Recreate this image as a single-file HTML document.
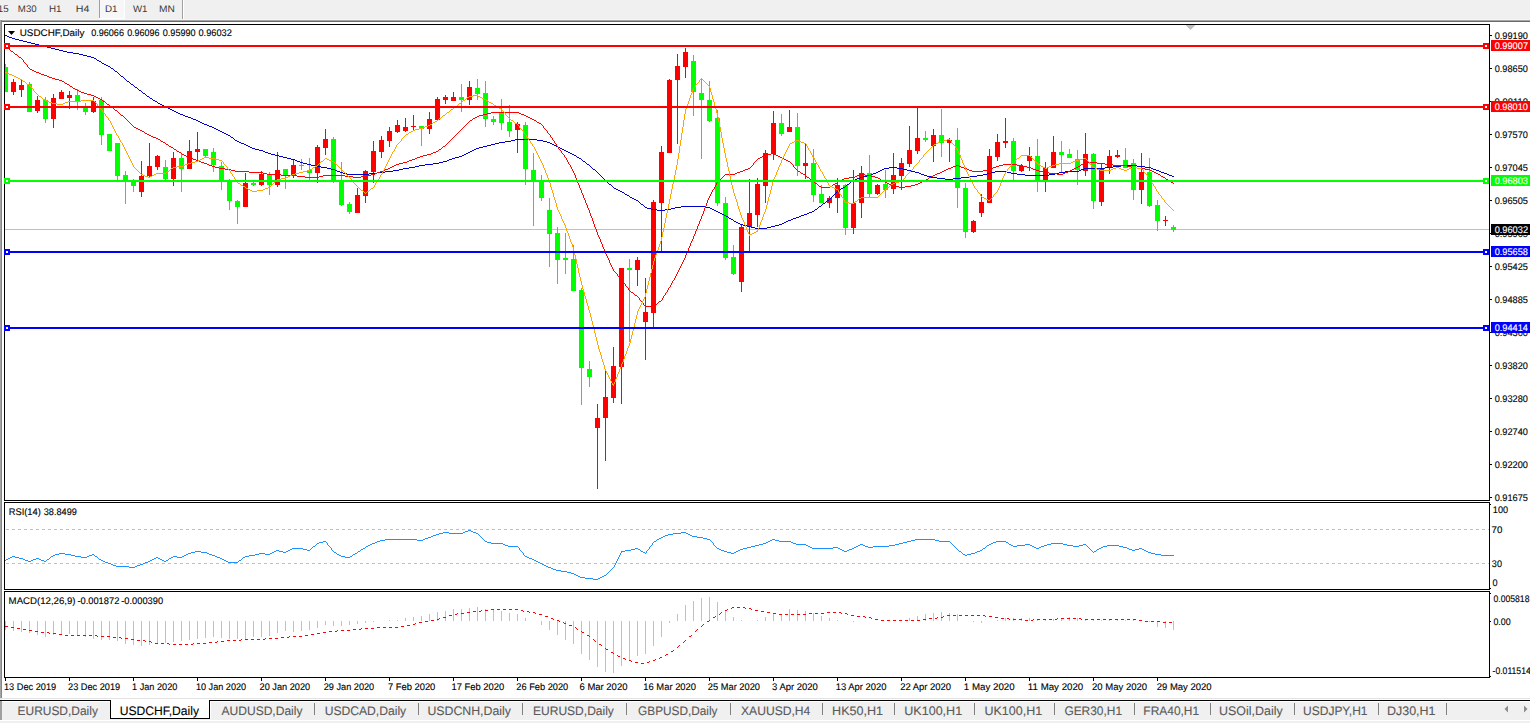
<!DOCTYPE html>
<html><head><meta charset="utf-8"><style>
html,body{margin:0;padding:0;background:#f0f0f0;width:1530px;height:723px;overflow:hidden}
text{font-family:"Liberation Sans", sans-serif}
</style></head><body><svg width="1530" height="723" viewBox="0 0 1530 723" style="display:block"><rect x="0" y="0" width="1530" height="723" fill="#f0f0f0"/>
<text x="-2.23" y="12" font-size="9.6" fill="#3a3a3a" stroke="#3a3a3a" stroke-width="0" textLength="10.84" lengthAdjust="spacingAndGlyphs" text-rendering="geometricPrecision">15</text>
<text x="17.83" y="12" font-size="9.6" fill="#3a3a3a" stroke="#3a3a3a" stroke-width="0" textLength="18.82" lengthAdjust="spacingAndGlyphs" text-rendering="geometricPrecision">M30</text>
<text x="49.01" y="12" font-size="9.6" fill="#3a3a3a" stroke="#3a3a3a" stroke-width="0" textLength="12.56" lengthAdjust="spacingAndGlyphs" text-rendering="geometricPrecision">H1</text>
<text x="75.75" y="12" font-size="9.6" fill="#3a3a3a" stroke="#3a3a3a" stroke-width="0" textLength="13.61" lengthAdjust="spacingAndGlyphs" text-rendering="geometricPrecision">H4</text>
<rect x="99" y="0" width="1" height="18" fill="#a0a0a0"/>
<rect x="100" y="0" width="24" height="18" fill="#f7f7f7"/>
<rect x="99" y="18" width="26" height="1" fill="#ffffff"/>
<rect x="124" y="0" width="1" height="18" fill="#ffffff"/>
<text x="104.91" y="12" font-size="9.6" fill="#3a3a3a" stroke="#3a3a3a" stroke-width="0" textLength="12.56" lengthAdjust="spacingAndGlyphs" text-rendering="geometricPrecision">D1</text>
<text x="132.95" y="12" font-size="9.6" fill="#3a3a3a" stroke="#3a3a3a" stroke-width="0" textLength="14.48" lengthAdjust="spacingAndGlyphs" text-rendering="geometricPrecision">W1</text>
<text x="158.99" y="12" font-size="9.6" fill="#3a3a3a" stroke="#3a3a3a" stroke-width="0" textLength="15.83" lengthAdjust="spacingAndGlyphs" text-rendering="geometricPrecision">MN</text>
<rect x="182" y="0" width="1" height="20" fill="#a0a0a0"/>
<rect x="183" y="0" width="1" height="20" fill="#ffffff"/>
<rect x="0" y="19" width="1530" height="1" fill="#f5f5f5"/>
<rect x="0" y="20" width="1530" height="1" fill="#a8a8a8"/>
<rect x="0" y="21" width="1530" height="1" fill="#6a6a6a"/>
<rect x="2" y="22" width="1528" height="677" fill="#ffffff"/>
<rect x="0" y="20" width="1" height="679" fill="#a4a4a4"/>
<rect x="1" y="20" width="1" height="679" fill="#868686"/>
<defs><clipPath id="cm"><rect x="5" y="25" width="1484" height="475"/></clipPath><clipPath id="cr"><rect x="5" y="503" width="1484" height="86"/></clipPath><clipPath id="cd"><rect x="5" y="592" width="1484" height="85"/></clipPath></defs>
<g clip-path="url(#cm)" shape-rendering="crispEdges">
<rect x="5" y="229" width="1484" height="1" fill="#c0c0c0"/>
<rect x="5" y="64" width="1" height="28" fill="#00ff00"/>
<rect x="3" y="67" width="5" height="25" fill="#00ff00"/>
<rect x="13" y="79" width="1" height="16" fill="#ff0000"/>
<rect x="11" y="82" width="5" height="10" fill="#ff0000"/>
<rect x="21" y="80" width="1" height="17" fill="#ff0000"/>
<rect x="19" y="85" width="5" height="5" fill="#ff0000"/>
<rect x="29" y="82" width="1" height="30" fill="#00ff00"/>
<rect x="27" y="84" width="5" height="28" fill="#00ff00"/>
<rect x="37" y="96" width="1" height="17" fill="#ff0000"/>
<rect x="35" y="100" width="5" height="11" fill="#ff0000"/>
<rect x="45" y="97" width="1" height="26" fill="#00ff00"/>
<rect x="43" y="100" width="5" height="19" fill="#00ff00"/>
<rect x="53" y="94" width="1" height="34" fill="#ff0000"/>
<rect x="51" y="98" width="5" height="21" fill="#ff0000"/>
<rect x="61" y="90" width="1" height="9" fill="#ff0000"/>
<rect x="59" y="92" width="5" height="7" fill="#ff0000"/>
<rect x="69" y="91" width="1" height="18" fill="#ff0000"/>
<rect x="67" y="95" width="5" height="3" fill="#ff0000"/>
<rect x="77" y="89" width="1" height="21" fill="#00ff00"/>
<rect x="75" y="95" width="5" height="7" fill="#00ff00"/>
<rect x="85" y="103" width="1" height="12" fill="#00ff00"/>
<rect x="83" y="107" width="5" height="5" fill="#00ff00"/>
<rect x="93" y="97" width="1" height="16" fill="#ff0000"/>
<rect x="91" y="101" width="5" height="11" fill="#ff0000"/>
<rect x="101" y="97" width="1" height="48" fill="#00ff00"/>
<rect x="99" y="100" width="5" height="35" fill="#00ff00"/>
<rect x="109" y="134" width="1" height="17" fill="#00ff00"/>
<rect x="107" y="134" width="5" height="17" fill="#00ff00"/>
<rect x="117" y="143" width="1" height="37" fill="#00ff00"/>
<rect x="115" y="143" width="5" height="33" fill="#00ff00"/>
<rect x="125" y="171" width="1" height="33" fill="#00ff00"/>
<rect x="123" y="175" width="5" height="6" fill="#00ff00"/>
<rect x="133" y="179" width="1" height="13" fill="#00ff00"/>
<rect x="131" y="181" width="5" height="5" fill="#00ff00"/>
<rect x="141" y="161" width="1" height="36" fill="#ff0000"/>
<rect x="139" y="176" width="5" height="16" fill="#ff0000"/>
<rect x="149" y="143" width="1" height="35" fill="#ff0000"/>
<rect x="147" y="166" width="5" height="10" fill="#ff0000"/>
<rect x="157" y="155" width="1" height="15" fill="#ff0000"/>
<rect x="155" y="156" width="5" height="11" fill="#ff0000"/>
<rect x="165" y="160" width="1" height="20" fill="#00ff00"/>
<rect x="163" y="167" width="5" height="12" fill="#00ff00"/>
<rect x="173" y="152" width="1" height="34" fill="#ff0000"/>
<rect x="171" y="158" width="5" height="21" fill="#ff0000"/>
<rect x="181" y="153" width="1" height="39" fill="#00ff00"/>
<rect x="179" y="158" width="5" height="11" fill="#00ff00"/>
<rect x="189" y="140" width="1" height="29" fill="#ff0000"/>
<rect x="187" y="151" width="5" height="18" fill="#ff0000"/>
<rect x="197" y="132" width="1" height="28" fill="#ff0000"/>
<rect x="195" y="149" width="5" height="3" fill="#ff0000"/>
<rect x="205" y="149" width="1" height="9" fill="#00ff00"/>
<rect x="203" y="149" width="5" height="7" fill="#00ff00"/>
<rect x="213" y="148" width="1" height="24" fill="#00ff00"/>
<rect x="211" y="152" width="5" height="13" fill="#00ff00"/>
<rect x="221" y="162" width="1" height="28" fill="#00ff00"/>
<rect x="219" y="166" width="5" height="14" fill="#00ff00"/>
<rect x="229" y="179" width="1" height="31" fill="#00ff00"/>
<rect x="227" y="180" width="5" height="21" fill="#00ff00"/>
<rect x="237" y="200" width="1" height="24" fill="#00ff00"/>
<rect x="235" y="201" width="5" height="6" fill="#00ff00"/>
<rect x="245" y="173" width="1" height="34" fill="#ff0000"/>
<rect x="243" y="183" width="5" height="24" fill="#ff0000"/>
<rect x="253" y="182" width="1" height="4" fill="#00ff00"/>
<rect x="251" y="183" width="5" height="2" fill="#00ff00"/>
<rect x="261" y="171" width="1" height="15" fill="#ff0000"/>
<rect x="259" y="174" width="5" height="11" fill="#ff0000"/>
<rect x="269" y="172" width="1" height="23" fill="#00ff00"/>
<rect x="267" y="175" width="5" height="10" fill="#00ff00"/>
<rect x="277" y="152" width="1" height="35" fill="#ff0000"/>
<rect x="275" y="170" width="5" height="15" fill="#ff0000"/>
<rect x="285" y="169" width="1" height="20" fill="#00ff00"/>
<rect x="283" y="169" width="5" height="6" fill="#00ff00"/>
<rect x="293" y="160" width="1" height="18" fill="#ff0000"/>
<rect x="291" y="165" width="5" height="10" fill="#ff0000"/>
<rect x="301" y="159" width="1" height="11" fill="#00ff00"/>
<rect x="299" y="165" width="5" height="1" fill="#00ff00"/>
<rect x="309" y="158" width="1" height="22" fill="#00ff00"/>
<rect x="307" y="170" width="5" height="3" fill="#00ff00"/>
<rect x="317" y="145" width="1" height="38" fill="#ff0000"/>
<rect x="315" y="147" width="5" height="26" fill="#ff0000"/>
<rect x="325" y="129" width="1" height="26" fill="#ff0000"/>
<rect x="323" y="139" width="5" height="9" fill="#ff0000"/>
<rect x="333" y="137" width="1" height="46" fill="#00ff00"/>
<rect x="331" y="139" width="5" height="41" fill="#00ff00"/>
<rect x="341" y="162" width="1" height="44" fill="#00ff00"/>
<rect x="339" y="180" width="5" height="25" fill="#00ff00"/>
<rect x="349" y="202" width="1" height="12" fill="#00ff00"/>
<rect x="347" y="204" width="5" height="8" fill="#00ff00"/>
<rect x="357" y="188" width="1" height="25" fill="#ff0000"/>
<rect x="355" y="195" width="5" height="18" fill="#ff0000"/>
<rect x="365" y="170" width="1" height="33" fill="#ff0000"/>
<rect x="363" y="171" width="5" height="25" fill="#ff0000"/>
<rect x="373" y="141" width="1" height="42" fill="#ff0000"/>
<rect x="371" y="151" width="5" height="21" fill="#ff0000"/>
<rect x="381" y="136" width="1" height="22" fill="#ff0000"/>
<rect x="379" y="140" width="5" height="12" fill="#ff0000"/>
<rect x="389" y="127" width="1" height="20" fill="#ff0000"/>
<rect x="387" y="131" width="5" height="10" fill="#ff0000"/>
<rect x="397" y="120" width="1" height="13" fill="#ff0000"/>
<rect x="395" y="125" width="5" height="7" fill="#ff0000"/>
<rect x="405" y="118" width="1" height="14" fill="#ff0000"/>
<rect x="403" y="127" width="5" height="4" fill="#ff0000"/>
<rect x="413" y="115" width="1" height="15" fill="#ff0000"/>
<rect x="411" y="126" width="5" height="1" fill="#ff0000"/>
<rect x="421" y="126" width="1" height="20" fill="#00ff00"/>
<rect x="419" y="126" width="5" height="3" fill="#00ff00"/>
<rect x="429" y="112" width="1" height="22" fill="#ff0000"/>
<rect x="427" y="119" width="5" height="10" fill="#ff0000"/>
<rect x="437" y="97" width="1" height="23" fill="#ff0000"/>
<rect x="435" y="99" width="5" height="21" fill="#ff0000"/>
<rect x="445" y="95" width="1" height="9" fill="#ff0000"/>
<rect x="443" y="97" width="5" height="3" fill="#ff0000"/>
<rect x="453" y="92" width="1" height="9" fill="#ff0000"/>
<rect x="451" y="97" width="5" height="4" fill="#ff0000"/>
<rect x="461" y="84" width="1" height="28" fill="#00ff00"/>
<rect x="459" y="97" width="5" height="3" fill="#00ff00"/>
<rect x="469" y="81" width="1" height="24" fill="#ff0000"/>
<rect x="467" y="87" width="5" height="13" fill="#ff0000"/>
<rect x="477" y="79" width="1" height="21" fill="#00ff00"/>
<rect x="475" y="88" width="5" height="6" fill="#00ff00"/>
<rect x="485" y="81" width="1" height="46" fill="#00ff00"/>
<rect x="483" y="93" width="5" height="26" fill="#00ff00"/>
<rect x="493" y="116" width="1" height="9" fill="#00ff00"/>
<rect x="491" y="119" width="5" height="3" fill="#00ff00"/>
<rect x="501" y="99" width="1" height="31" fill="#00ff00"/>
<rect x="499" y="113" width="5" height="10" fill="#00ff00"/>
<rect x="509" y="105" width="1" height="32" fill="#00ff00"/>
<rect x="507" y="122" width="5" height="9" fill="#00ff00"/>
<rect x="517" y="122" width="1" height="31" fill="#ff0000"/>
<rect x="515" y="124" width="5" height="6" fill="#ff0000"/>
<rect x="525" y="122" width="1" height="63" fill="#00ff00"/>
<rect x="523" y="125" width="5" height="44" fill="#00ff00"/>
<rect x="533" y="153" width="1" height="73" fill="#00ff00"/>
<rect x="531" y="170" width="5" height="11" fill="#00ff00"/>
<rect x="541" y="175" width="1" height="26" fill="#00ff00"/>
<rect x="539" y="181" width="5" height="17" fill="#00ff00"/>
<rect x="549" y="198" width="1" height="69" fill="#00ff00"/>
<rect x="547" y="210" width="5" height="24" fill="#00ff00"/>
<rect x="557" y="227" width="1" height="57" fill="#00ff00"/>
<rect x="555" y="233" width="5" height="27" fill="#00ff00"/>
<rect x="565" y="233" width="1" height="41" fill="#00ff00"/>
<rect x="563" y="258" width="5" height="2" fill="#00ff00"/>
<rect x="573" y="245" width="1" height="46" fill="#00ff00"/>
<rect x="571" y="259" width="5" height="32" fill="#00ff00"/>
<rect x="581" y="288" width="1" height="117" fill="#00ff00"/>
<rect x="579" y="290" width="5" height="78" fill="#00ff00"/>
<rect x="589" y="361" width="1" height="26" fill="#00ff00"/>
<rect x="587" y="369" width="5" height="8" fill="#00ff00"/>
<rect x="597" y="404" width="1" height="85" fill="#ff0000"/>
<rect x="595" y="418" width="5" height="10" fill="#ff0000"/>
<rect x="605" y="371" width="1" height="90" fill="#ff0000"/>
<rect x="603" y="397" width="5" height="21" fill="#ff0000"/>
<rect x="613" y="347" width="1" height="56" fill="#ff0000"/>
<rect x="611" y="366" width="5" height="32" fill="#ff0000"/>
<rect x="621" y="268" width="1" height="136" fill="#ff0000"/>
<rect x="619" y="268" width="5" height="99" fill="#ff0000"/>
<rect x="629" y="259" width="1" height="83" fill="#00ff00"/>
<rect x="627" y="268" width="5" height="2" fill="#00ff00"/>
<rect x="637" y="257" width="1" height="29" fill="#ff0000"/>
<rect x="635" y="260" width="5" height="10" fill="#ff0000"/>
<rect x="645" y="278" width="1" height="82" fill="#ff0000"/>
<rect x="643" y="312" width="5" height="10" fill="#ff0000"/>
<rect x="653" y="200" width="1" height="127" fill="#ff0000"/>
<rect x="651" y="202" width="5" height="111" fill="#ff0000"/>
<rect x="661" y="146" width="1" height="105" fill="#ff0000"/>
<rect x="659" y="152" width="5" height="51" fill="#ff0000"/>
<rect x="669" y="79" width="1" height="74" fill="#ff0000"/>
<rect x="667" y="80" width="5" height="73" fill="#ff0000"/>
<rect x="677" y="54" width="1" height="90" fill="#ff0000"/>
<rect x="675" y="66" width="5" height="14" fill="#ff0000"/>
<rect x="685" y="48" width="1" height="30" fill="#ff0000"/>
<rect x="683" y="52" width="5" height="15" fill="#ff0000"/>
<rect x="693" y="55" width="1" height="61" fill="#00ff00"/>
<rect x="691" y="61" width="5" height="31" fill="#00ff00"/>
<rect x="701" y="78" width="1" height="81" fill="#00ff00"/>
<rect x="699" y="93" width="5" height="7" fill="#00ff00"/>
<rect x="709" y="81" width="1" height="41" fill="#00ff00"/>
<rect x="707" y="100" width="5" height="21" fill="#00ff00"/>
<rect x="717" y="110" width="1" height="96" fill="#00ff00"/>
<rect x="715" y="118" width="5" height="85" fill="#00ff00"/>
<rect x="725" y="197" width="1" height="63" fill="#00ff00"/>
<rect x="723" y="203" width="5" height="55" fill="#00ff00"/>
<rect x="733" y="245" width="1" height="30" fill="#00ff00"/>
<rect x="731" y="257" width="5" height="17" fill="#00ff00"/>
<rect x="741" y="224" width="1" height="68" fill="#ff0000"/>
<rect x="739" y="227" width="5" height="55" fill="#ff0000"/>
<rect x="749" y="179" width="1" height="72" fill="#ff0000"/>
<rect x="747" y="213" width="5" height="14" fill="#ff0000"/>
<rect x="757" y="178" width="1" height="49" fill="#ff0000"/>
<rect x="755" y="184" width="5" height="31" fill="#ff0000"/>
<rect x="765" y="150" width="1" height="53" fill="#ff0000"/>
<rect x="763" y="153" width="5" height="33" fill="#ff0000"/>
<rect x="773" y="111" width="1" height="49" fill="#ff0000"/>
<rect x="771" y="123" width="5" height="31" fill="#ff0000"/>
<rect x="781" y="114" width="1" height="22" fill="#00ff00"/>
<rect x="779" y="123" width="5" height="11" fill="#00ff00"/>
<rect x="789" y="110" width="1" height="22" fill="#ff0000"/>
<rect x="787" y="127" width="5" height="5" fill="#ff0000"/>
<rect x="797" y="113" width="1" height="63" fill="#00ff00"/>
<rect x="795" y="127" width="5" height="39" fill="#00ff00"/>
<rect x="805" y="143" width="1" height="36" fill="#ff0000"/>
<rect x="803" y="163" width="5" height="3" fill="#ff0000"/>
<rect x="813" y="149" width="1" height="53" fill="#00ff00"/>
<rect x="811" y="163" width="5" height="32" fill="#00ff00"/>
<rect x="821" y="185" width="1" height="18" fill="#00ff00"/>
<rect x="819" y="194" width="5" height="9" fill="#00ff00"/>
<rect x="829" y="196" width="1" height="12" fill="#ff0000"/>
<rect x="827" y="198" width="5" height="5" fill="#ff0000"/>
<rect x="837" y="178" width="1" height="35" fill="#ff0000"/>
<rect x="835" y="185" width="5" height="13" fill="#ff0000"/>
<rect x="845" y="184" width="1" height="51" fill="#00ff00"/>
<rect x="843" y="185" width="5" height="43" fill="#00ff00"/>
<rect x="853" y="170" width="1" height="64" fill="#ff0000"/>
<rect x="851" y="203" width="5" height="25" fill="#ff0000"/>
<rect x="861" y="166" width="1" height="52" fill="#ff0000"/>
<rect x="859" y="173" width="5" height="30" fill="#ff0000"/>
<rect x="869" y="155" width="1" height="43" fill="#00ff00"/>
<rect x="867" y="173" width="5" height="21" fill="#00ff00"/>
<rect x="877" y="184" width="1" height="11" fill="#ff0000"/>
<rect x="875" y="185" width="5" height="9" fill="#ff0000"/>
<rect x="885" y="170" width="1" height="28" fill="#00ff00"/>
<rect x="883" y="184" width="5" height="6" fill="#00ff00"/>
<rect x="893" y="153" width="1" height="41" fill="#ff0000"/>
<rect x="891" y="175" width="5" height="14" fill="#ff0000"/>
<rect x="901" y="158" width="1" height="32" fill="#ff0000"/>
<rect x="899" y="163" width="5" height="13" fill="#ff0000"/>
<rect x="909" y="126" width="1" height="41" fill="#ff0000"/>
<rect x="907" y="150" width="5" height="14" fill="#ff0000"/>
<rect x="917" y="107" width="1" height="47" fill="#ff0000"/>
<rect x="915" y="138" width="5" height="13" fill="#ff0000"/>
<rect x="925" y="131" width="1" height="11" fill="#00ff00"/>
<rect x="923" y="138" width="5" height="2" fill="#00ff00"/>
<rect x="933" y="129" width="1" height="33" fill="#ff0000"/>
<rect x="931" y="135" width="5" height="11" fill="#ff0000"/>
<rect x="941" y="109" width="1" height="48" fill="#00ff00"/>
<rect x="939" y="135" width="5" height="8" fill="#00ff00"/>
<rect x="949" y="138" width="1" height="24" fill="#ff0000"/>
<rect x="947" y="140" width="5" height="3" fill="#ff0000"/>
<rect x="957" y="128" width="1" height="80" fill="#00ff00"/>
<rect x="955" y="140" width="5" height="48" fill="#00ff00"/>
<rect x="965" y="183" width="1" height="55" fill="#00ff00"/>
<rect x="963" y="188" width="5" height="44" fill="#00ff00"/>
<rect x="973" y="220" width="1" height="13" fill="#ff0000"/>
<rect x="971" y="221" width="5" height="11" fill="#ff0000"/>
<rect x="981" y="194" width="1" height="23" fill="#ff0000"/>
<rect x="979" y="202" width="5" height="11" fill="#ff0000"/>
<rect x="989" y="149" width="1" height="54" fill="#ff0000"/>
<rect x="987" y="156" width="5" height="47" fill="#ff0000"/>
<rect x="997" y="134" width="1" height="27" fill="#ff0000"/>
<rect x="995" y="142" width="5" height="15" fill="#ff0000"/>
<rect x="1005" y="118" width="1" height="30" fill="#ff0000"/>
<rect x="1003" y="141" width="5" height="2" fill="#ff0000"/>
<rect x="1013" y="138" width="1" height="44" fill="#00ff00"/>
<rect x="1011" y="141" width="5" height="30" fill="#00ff00"/>
<rect x="1021" y="164" width="1" height="8" fill="#ff0000"/>
<rect x="1019" y="166" width="5" height="5" fill="#ff0000"/>
<rect x="1029" y="147" width="1" height="24" fill="#ff0000"/>
<rect x="1027" y="156" width="5" height="5" fill="#ff0000"/>
<rect x="1037" y="139" width="1" height="53" fill="#00ff00"/>
<rect x="1035" y="156" width="5" height="26" fill="#00ff00"/>
<rect x="1045" y="162" width="1" height="30" fill="#ff0000"/>
<rect x="1043" y="168" width="5" height="12" fill="#ff0000"/>
<rect x="1053" y="136" width="1" height="32" fill="#ff0000"/>
<rect x="1051" y="152" width="5" height="16" fill="#ff0000"/>
<rect x="1061" y="141" width="1" height="31" fill="#00ff00"/>
<rect x="1059" y="152" width="5" height="3" fill="#00ff00"/>
<rect x="1069" y="149" width="1" height="9" fill="#00ff00"/>
<rect x="1067" y="154" width="5" height="4" fill="#00ff00"/>
<rect x="1077" y="150" width="1" height="35" fill="#00ff00"/>
<rect x="1075" y="159" width="5" height="11" fill="#00ff00"/>
<rect x="1085" y="133" width="1" height="43" fill="#ff0000"/>
<rect x="1083" y="154" width="5" height="17" fill="#ff0000"/>
<rect x="1093" y="153" width="1" height="56" fill="#00ff00"/>
<rect x="1091" y="154" width="5" height="47" fill="#00ff00"/>
<rect x="1101" y="163" width="1" height="43" fill="#ff0000"/>
<rect x="1099" y="168" width="5" height="34" fill="#ff0000"/>
<rect x="1109" y="150" width="1" height="24" fill="#ff0000"/>
<rect x="1107" y="156" width="5" height="12" fill="#ff0000"/>
<rect x="1117" y="150" width="1" height="8" fill="#ff0000"/>
<rect x="1115" y="155" width="5" height="2" fill="#ff0000"/>
<rect x="1125" y="148" width="1" height="20" fill="#00ff00"/>
<rect x="1123" y="160" width="5" height="8" fill="#00ff00"/>
<rect x="1133" y="159" width="1" height="41" fill="#00ff00"/>
<rect x="1131" y="163" width="5" height="27" fill="#00ff00"/>
<rect x="1141" y="153" width="1" height="51" fill="#ff0000"/>
<rect x="1139" y="172" width="5" height="18" fill="#ff0000"/>
<rect x="1149" y="158" width="1" height="49" fill="#00ff00"/>
<rect x="1147" y="172" width="5" height="34" fill="#00ff00"/>
<rect x="1157" y="200" width="1" height="31" fill="#00ff00"/>
<rect x="1155" y="205" width="5" height="16" fill="#00ff00"/>
<rect x="1165" y="216" width="1" height="10" fill="#ff0000"/>
<rect x="1163" y="220" width="5" height="1" fill="#ff0000"/>
<rect x="1173" y="225" width="1" height="7" fill="#00ff00"/>
<rect x="1171" y="227" width="5" height="3" fill="#00ff00"/>
</g>
<g clip-path="url(#cm)" shape-rendering="crispEdges">
<path d="M5 35h2v1h-2zM7 36h2v1h-2zM9 37h3v1h-3zM12 38h3v1h-3zM15 39h4v1h-4zM19 40h4v1h-4zM23 41h4v1h-4zM27 42h4v1h-4zM31 43h4v1h-4zM35 44h4v1h-4zM39 45h4v1h-4zM43 46h4v1h-4zM47 47h4v1h-4zM51 48h4v1h-4zM55 49h4v1h-4zM59 50h4v1h-4zM63 51h4v1h-4zM67 52h6v1h-6zM73 53h6v1h-6zM79 54h4v1h-4zM83 55h4v1h-4zM87 56h4v1h-4zM91 57h3v1h-3zM94 58h2v1h-2zM96 59h1v1h-1zM97 60h2v1h-2zM99 61h2v1h-2zM101 62h1v1h-1zM102 63h2v1h-2zM104 64h2v1h-2zM106 65h2v1h-2zM108 66h2v1h-2zM110 67h1v1h-1zM111 68h2v1h-2zM113 69h1v1h-1zM114 70h1v1h-1zM115 71h2v1h-2zM117 72h1v1h-1zM118 73h1v1h-1zM119 74h1v1h-1zM120 75h1v1h-1zM121 76h2v1h-2zM123 77h1v1h-1zM124 78h1v1h-1zM125 79h1v1h-1zM126 80h1v1h-1zM127 81h2v1h-2zM129 82h1v1h-1zM130 83h1v1h-1zM131 84h2v1h-2zM133 85h1v1h-1zM134 86h1v1h-1zM135 87h2v1h-2zM137 88h1v1h-1zM138 89h1v1h-1zM139 90h2v1h-2zM141 91h1v1h-1zM142 92h1v1h-1zM143 93h2v1h-2zM145 94h1v1h-1zM146 95h1v1h-1zM147 96h2v1h-2zM149 97h1v1h-1zM150 98h2v1h-2zM152 99h1v1h-1zM153 100h2v1h-2zM155 101h2v1h-2zM157 102h1v1h-1zM158 103h2v1h-2zM160 104h2v1h-2zM162 105h2v1h-2zM164 106h2v1h-2zM166 107h2v1h-2zM168 108h2v1h-2zM170 109h2v1h-2zM172 110h2v1h-2zM174 111h2v1h-2zM176 112h2v1h-2zM178 113h2v1h-2zM180 114h3v1h-3zM183 115h2v1h-2zM185 116h3v1h-3zM188 117h3v1h-3zM191 118h2v1h-2zM193 119h3v1h-3zM196 120h2v1h-2zM198 121h2v1h-2zM200 122h2v1h-2zM202 123h2v1h-2zM204 124h3v1h-3zM207 125h2v1h-2zM209 126h3v1h-3zM212 127h2v1h-2zM214 128h2v1h-2zM216 129h2v1h-2zM218 130h2v1h-2zM220 131h2v1h-2zM222 132h2v1h-2zM224 133h2v1h-2zM226 134h2v1h-2zM228 135h2v1h-2zM230 136h1v1h-1zM231 137h2v1h-2zM233 138h1v1h-1zM234 139h1v1h-1zM515 139h22v1h-22zM235 140h2v1h-2zM511 140h4v1h-4zM537 140h6v1h-6zM237 141h2v1h-2zM505 141h6v1h-6zM543 141h4v1h-4zM239 142h2v1h-2zM499 142h6v1h-6zM547 142h3v1h-3zM241 143h3v1h-3zM495 143h4v1h-4zM550 143h2v1h-2zM244 144h2v1h-2zM491 144h4v1h-4zM552 144h2v1h-2zM246 145h2v1h-2zM487 145h4v1h-4zM554 145h2v1h-2zM248 146h2v1h-2zM483 146h4v1h-4zM556 146h2v1h-2zM250 147h2v1h-2zM479 147h4v1h-4zM558 147h2v1h-2zM252 148h3v1h-3zM476 148h3v1h-3zM560 148h2v1h-2zM255 149h4v1h-4zM474 149h2v1h-2zM562 149h2v1h-2zM259 150h4v1h-4zM472 150h2v1h-2zM564 150h2v1h-2zM263 151h2v1h-2zM470 151h2v1h-2zM566 151h2v1h-2zM265 152h3v1h-3zM468 152h2v1h-2zM568 152h2v1h-2zM268 153h3v1h-3zM466 153h2v1h-2zM570 153h2v1h-2zM271 154h4v1h-4zM464 154h2v1h-2zM572 154h2v1h-2zM275 155h4v1h-4zM462 155h2v1h-2zM574 155h2v1h-2zM279 156h4v1h-4zM459 156h3v1h-3zM576 156h1v1h-1zM283 157h4v1h-4zM455 157h4v1h-4zM577 157h2v1h-2zM287 158h4v1h-4zM452 158h3v1h-3zM579 158h2v1h-2zM291 159h4v1h-4zM449 159h3v1h-3zM581 159h1v1h-1zM295 160h2v1h-2zM447 160h2v1h-2zM582 160h1v1h-1zM297 161h3v1h-3zM443 161h4v1h-4zM583 161h2v1h-2zM300 162h3v1h-3zM439 162h4v1h-4zM585 162h1v1h-1zM303 163h4v1h-4zM433 163h6v1h-6zM586 163h1v1h-1zM307 164h4v1h-4zM425 164h8v1h-8zM587 164h2v1h-2zM311 165h4v1h-4zM419 165h6v1h-6zM589 165h1v1h-1zM1121 165h16v1h-16zM315 166h6v1h-6zM415 166h4v1h-4zM590 166h1v1h-1zM1113 166h8v1h-8zM1137 166h8v1h-8zM321 167h6v1h-6zM409 167h6v1h-6zM591 167h1v1h-1zM889 167h8v1h-8zM1105 167h8v1h-8zM1145 167h6v1h-6zM327 168h4v1h-4zM403 168h6v1h-6zM592 168h1v1h-1zM884 168h5v1h-5zM897 168h6v1h-6zM1084 168h21v1h-21zM1151 168h2v1h-2zM331 169h4v1h-4zM399 169h4v1h-4zM593 169h2v1h-2zM882 169h2v1h-2zM903 169h4v1h-4zM1081 169h3v1h-3zM1153 169h3v1h-3zM335 170h2v1h-2zM393 170h6v1h-6zM595 170h1v1h-1zM880 170h2v1h-2zM907 170h4v1h-4zM1079 170h2v1h-2zM1156 170h3v1h-3zM337 171h3v1h-3zM385 171h8v1h-8zM596 171h1v1h-1zM878 171h2v1h-2zM911 171h4v1h-4zM995 171h12v1h-12zM1065 171h14v1h-14zM1159 171h2v1h-2zM340 172h3v1h-3zM377 172h8v1h-8zM597 172h1v1h-1zM876 172h2v1h-2zM915 172h4v1h-4zM991 172h4v1h-4zM1007 172h4v1h-4zM1059 172h6v1h-6zM1161 172h3v1h-3zM343 173h4v1h-4zM369 173h8v1h-8zM598 173h1v1h-1zM873 173h3v1h-3zM919 173h2v1h-2zM987 173h4v1h-4zM1011 173h6v1h-6zM1055 173h4v1h-4zM1164 173h3v1h-3zM347 174h22v1h-22zM599 174h1v1h-1zM871 174h2v1h-2zM921 174h3v1h-3zM983 174h4v1h-4zM1017 174h8v1h-8zM1049 174h6v1h-6zM1167 174h2v1h-2zM600 175h1v1h-1zM867 175h4v1h-4zM924 175h3v1h-3zM977 175h6v1h-6zM1025 175h24v1h-24zM1169 175h3v1h-3zM601 176h1v1h-1zM863 176h4v1h-4zM927 176h4v1h-4zM969 176h8v1h-8zM1172 176h2v1h-2zM602 177h1v1h-1zM860 177h3v1h-3zM931 177h6v1h-6zM961 177h8v1h-8zM603 178h1v1h-1zM857 178h3v1h-3zM937 178h8v1h-8zM953 178h8v1h-8zM604 179h1v1h-1zM855 179h2v1h-2zM945 179h8v1h-8zM605 180h1v1h-1zM853 180h2v1h-2zM606 181h1v1h-1zM851 181h2v1h-2zM607 182h1v1h-1zM850 182h1v1h-1zM608 183h1v1h-1zM849 183h1v1h-1zM609 184h2v1h-2zM847 184h2v1h-2zM611 185h1v1h-1zM846 185h1v1h-1zM612 186h1v1h-1zM845 186h1v1h-1zM613 187h1v1h-1zM843 187h2v1h-2zM614 188h2v1h-2zM841 188h2v1h-2zM616 189h2v1h-2zM840 189h1v1h-1zM618 190h2v1h-2zM838 190h2v1h-2zM620 191h2v1h-2zM837 191h1v1h-1zM622 192h2v1h-2zM836 192h1v1h-1zM624 193h1v1h-1zM835 193h1v1h-1zM625 194h2v1h-2zM834 194h1v1h-1zM627 195h2v1h-2zM833 195h1v1h-1zM629 196h1v1h-1zM832 196h1v1h-1zM630 197h2v1h-2zM831 197h1v1h-1zM632 198h2v1h-2zM830 198h1v1h-1zM634 199h2v1h-2zM829 199h1v1h-1zM636 200h2v1h-2zM827 200h2v1h-2zM638 201h1v1h-1zM826 201h1v1h-1zM639 202h1v1h-1zM825 202h1v1h-1zM640 203h1v1h-1zM823 203h2v1h-2zM641 204h2v1h-2zM822 204h1v1h-1zM643 205h1v1h-1zM821 205h1v1h-1zM644 206h1v1h-1zM681 206h24v1h-24zM819 206h2v1h-2zM645 207h2v1h-2zM675 207h6v1h-6zM705 207h5v1h-5zM818 207h1v1h-1zM647 208h4v1h-4zM671 208h4v1h-4zM710 208h2v1h-2zM817 208h1v1h-1zM651 209h6v1h-6zM665 209h6v1h-6zM712 209h2v1h-2zM815 209h2v1h-2zM657 210h8v1h-8zM714 210h2v1h-2zM814 210h1v1h-1zM716 211h2v1h-2zM812 211h2v1h-2zM718 212h2v1h-2zM809 212h3v1h-3zM720 213h2v1h-2zM807 213h2v1h-2zM722 214h2v1h-2zM804 214h3v1h-3zM724 215h2v1h-2zM801 215h3v1h-3zM726 216h2v1h-2zM799 216h2v1h-2zM728 217h1v1h-1zM796 217h3v1h-3zM729 218h2v1h-2zM793 218h3v1h-3zM731 219h2v1h-2zM791 219h2v1h-2zM733 220h1v1h-1zM788 220h3v1h-3zM734 221h2v1h-2zM786 221h2v1h-2zM736 222h2v1h-2zM784 222h2v1h-2zM738 223h2v1h-2zM782 223h2v1h-2zM740 224h3v1h-3zM779 224h3v1h-3zM743 225h4v1h-4zM775 225h4v1h-4zM747 226h4v1h-4zM771 226h4v1h-4zM751 227h4v1h-4zM767 227h4v1h-4zM755 228h12v1h-12z" fill="#0000cd"/>
<path d="M5 46h1v1h-1zM6 47h1v1h-1zM7 48h2v1h-2zM9 49h1v1h-1zM10 50h1v1h-1zM11 51h2v1h-2zM13 52h1v1h-1zM14 53h1v1h-1zM15 54h2v1h-2zM17 55h1v1h-1zM18 56h1v1h-1zM19 57h2v1h-2zM21 58h1v1h-1zM22 59h1v1h-1zM23 60h1v1h-1zM23 61h1v1h-1zM24 62h1v1h-1zM25 63h1v1h-1zM26 64h1v1h-1zM27 65h1v1h-1zM27 66h1v1h-1zM28 67h1v1h-1zM29 68h1v1h-1zM30 69h2v1h-2zM32 70h2v1h-2zM34 71h2v1h-2zM36 72h3v1h-3zM39 73h2v1h-2zM41 74h3v1h-3zM44 75h3v1h-3zM47 76h2v1h-2zM49 77h3v1h-3zM52 78h3v1h-3zM55 79h4v1h-4zM59 80h3v1h-3zM62 81h2v1h-2zM64 82h1v1h-1zM65 83h2v1h-2zM67 84h2v1h-2zM69 85h1v1h-1zM70 86h2v1h-2zM72 87h1v1h-1zM73 88h2v1h-2zM75 89h2v1h-2zM77 90h2v1h-2zM79 91h2v1h-2zM81 92h3v1h-3zM84 93h3v1h-3zM87 94h4v1h-4zM91 95h3v1h-3zM94 96h2v1h-2zM96 97h2v1h-2zM98 98h2v1h-2zM100 99h2v1h-2zM102 100h1v1h-1zM103 101h2v1h-2zM105 102h1v1h-1zM106 103h1v1h-1zM107 104h2v1h-2zM109 105h1v1h-1zM110 106h1v1h-1zM111 107h2v1h-2zM113 108h1v1h-1zM114 109h1v1h-1zM115 110h2v1h-2zM117 111h1v1h-1zM118 112h1v1h-1zM491 112h28v1h-28zM119 113h1v1h-1zM487 113h4v1h-4zM519 113h2v1h-2zM120 114h1v1h-1zM483 114h4v1h-4zM521 114h3v1h-3zM121 115h2v1h-2zM479 115h4v1h-4zM524 115h2v1h-2zM123 116h1v1h-1zM477 116h2v1h-2zM526 116h2v1h-2zM124 117h1v1h-1zM475 117h2v1h-2zM528 117h2v1h-2zM125 118h1v1h-1zM473 118h2v1h-2zM530 118h2v1h-2zM126 119h1v1h-1zM472 119h1v1h-1zM532 119h2v1h-2zM127 120h1v1h-1zM470 120h2v1h-2zM534 120h2v1h-2zM128 121h1v1h-1zM469 121h1v1h-1zM536 121h1v1h-1zM129 122h1v1h-1zM468 122h1v1h-1zM537 122h2v1h-2zM130 123h1v1h-1zM467 123h1v1h-1zM539 123h2v1h-2zM131 124h1v1h-1zM466 124h1v1h-1zM541 124h1v1h-1zM132 125h1v1h-1zM465 125h1v1h-1zM542 125h1v1h-1zM133 126h1v1h-1zM464 126h1v1h-1zM543 126h1v1h-1zM134 127h2v1h-2zM463 127h1v1h-1zM543 127h1v1h-1zM136 128h2v1h-2zM462 128h1v1h-1zM544 128h1v1h-1zM138 129h2v1h-2zM461 129h1v1h-1zM545 129h1v1h-1zM140 130h2v1h-2zM460 130h1v1h-1zM546 130h1v1h-1zM142 131h2v1h-2zM459 131h1v1h-1zM547 131h1v1h-1zM144 132h1v1h-1zM458 132h1v1h-1zM547 132h1v1h-1zM145 133h2v1h-2zM457 133h1v1h-1zM548 133h1v1h-1zM147 134h2v1h-2zM456 134h1v1h-1zM549 134h1v1h-1zM149 135h2v1h-2zM455 135h1v1h-1zM550 135h1v1h-1zM151 136h2v1h-2zM454 136h1v1h-1zM550 136h1v1h-1zM153 137h3v1h-3zM453 137h1v1h-1zM551 137h1v1h-1zM156 138h2v1h-2zM452 138h1v1h-1zM552 138h1v1h-1zM158 139h2v1h-2zM451 139h1v1h-1zM552 139h1v1h-1zM160 140h1v1h-1zM450 140h1v1h-1zM553 140h1v1h-1zM161 141h2v1h-2zM449 141h1v1h-1zM554 141h1v1h-1zM163 142h2v1h-2zM448 142h1v1h-1zM554 142h1v1h-1zM165 143h1v1h-1zM447 143h1v1h-1zM555 143h1v1h-1zM166 144h2v1h-2zM446 144h1v1h-1zM556 144h1v1h-1zM168 145h1v1h-1zM445 145h1v1h-1zM556 145h1v1h-1zM169 146h2v1h-2zM443 146h2v1h-2zM557 146h1v1h-1zM171 147h2v1h-2zM442 147h1v1h-1zM558 147h1v1h-1zM173 148h1v1h-1zM441 148h1v1h-1zM558 148h1v1h-1zM174 149h2v1h-2zM439 149h2v1h-2zM559 149h1v1h-1zM176 150h1v1h-1zM438 150h1v1h-1zM560 150h1v1h-1zM177 151h2v1h-2zM436 151h2v1h-2zM561 151h1v1h-1zM179 152h2v1h-2zM433 152h3v1h-3zM561 152h1v1h-1zM181 153h1v1h-1zM431 153h2v1h-2zM562 153h1v1h-1zM771 153h3v1h-3zM182 154h2v1h-2zM427 154h4v1h-4zM563 154h1v1h-1zM767 154h4v1h-4zM774 154h2v1h-2zM184 155h2v1h-2zM423 155h4v1h-4zM564 155h1v1h-1zM764 155h3v1h-3zM776 155h2v1h-2zM186 156h2v1h-2zM420 156h3v1h-3zM564 156h1v1h-1zM762 156h2v1h-2zM778 156h2v1h-2zM188 157h3v1h-3zM417 157h3v1h-3zM565 157h1v1h-1zM760 157h2v1h-2zM780 157h2v1h-2zM191 158h2v1h-2zM415 158h2v1h-2zM566 158h1v1h-1zM758 158h2v1h-2zM782 158h2v1h-2zM193 159h3v1h-3zM412 159h3v1h-3zM566 159h1v1h-1zM757 159h1v1h-1zM784 159h2v1h-2zM196 160h3v1h-3zM409 160h3v1h-3zM567 160h1v1h-1zM756 160h1v1h-1zM786 160h2v1h-2zM199 161h2v1h-2zM407 161h2v1h-2zM567 161h1v1h-1zM755 161h1v1h-1zM788 161h2v1h-2zM201 162h3v1h-3zM403 162h4v1h-4zM568 162h1v1h-1zM754 162h1v1h-1zM790 162h1v1h-1zM1085 162h12v1h-12zM204 163h3v1h-3zM399 163h4v1h-4zM568 163h1v1h-1zM753 163h1v1h-1zM791 163h1v1h-1zM1083 163h2v1h-2zM1097 163h8v1h-8zM207 164h2v1h-2zM396 164h3v1h-3zM569 164h1v1h-1zM753 164h1v1h-1zM792 164h1v1h-1zM1003 164h14v1h-14zM1081 164h2v1h-2zM1105 164h8v1h-8zM209 165h3v1h-3zM394 165h2v1h-2zM570 165h1v1h-1zM752 165h1v1h-1zM793 165h1v1h-1zM956 165h3v1h-3zM999 165h4v1h-4zM1017 165h6v1h-6zM1080 165h1v1h-1zM1113 165h14v1h-14zM212 166h3v1h-3zM392 166h2v1h-2zM570 166h1v1h-1zM751 166h1v1h-1zM793 166h1v1h-1zM953 166h3v1h-3zM959 166h2v1h-2zM996 166h3v1h-3zM1023 166h4v1h-4zM1078 166h2v1h-2zM1127 166h4v1h-4zM215 167h4v1h-4zM390 167h2v1h-2zM571 167h1v1h-1zM750 167h1v1h-1zM794 167h1v1h-1zM951 167h2v1h-2zM961 167h3v1h-3zM993 167h3v1h-3zM1027 167h4v1h-4zM1076 167h2v1h-2zM1131 167h6v1h-6zM219 168h6v1h-6zM388 168h2v1h-2zM571 168h1v1h-1zM748 168h2v1h-2zM795 168h1v1h-1zM948 168h3v1h-3zM964 168h3v1h-3zM991 168h2v1h-2zM1031 168h2v1h-2zM1074 168h2v1h-2zM1137 168h8v1h-8zM225 169h6v1h-6zM385 169h3v1h-3zM572 169h1v1h-1zM745 169h3v1h-3zM796 169h1v1h-1zM946 169h2v1h-2zM967 169h2v1h-2zM987 169h4v1h-4zM1033 169h3v1h-3zM1072 169h2v1h-2zM1145 169h5v1h-5zM231 170h4v1h-4zM383 170h2v1h-2zM572 170h1v1h-1zM743 170h2v1h-2zM797 170h1v1h-1zM944 170h2v1h-2zM969 170h3v1h-3zM983 170h4v1h-4zM1036 170h3v1h-3zM1070 170h2v1h-2zM1150 170h2v1h-2zM235 171h14v1h-14zM380 171h3v1h-3zM573 171h1v1h-1zM740 171h3v1h-3zM798 171h2v1h-2zM942 171h2v1h-2zM972 171h11v1h-11zM1039 171h4v1h-4zM1068 171h2v1h-2zM1152 171h2v1h-2zM249 172h14v1h-14zM377 172h3v1h-3zM573 172h1v1h-1zM737 172h3v1h-3zM800 172h1v1h-1zM940 172h2v1h-2zM1043 172h6v1h-6zM1065 172h3v1h-3zM1154 172h2v1h-2zM263 173h4v1h-4zM375 173h2v1h-2zM574 173h1v1h-1zM735 173h2v1h-2zM801 173h2v1h-2zM937 173h3v1h-3zM1049 173h8v1h-8zM1063 173h2v1h-2zM1156 173h2v1h-2zM267 174h14v1h-14zM371 174h4v1h-4zM574 174h1v1h-1zM725 174h10v1h-10zM803 174h2v1h-2zM860 174h5v1h-5zM935 174h2v1h-2zM1057 174h6v1h-6zM1158 174h2v1h-2zM281 175h16v1h-16zM323 175h22v1h-22zM367 175h4v1h-4zM575 175h1v1h-1zM724 175h1v1h-1zM805 175h1v1h-1zM857 175h3v1h-3zM865 175h6v1h-6zM933 175h2v1h-2zM1160 175h1v1h-1zM297 176h8v1h-8zM319 176h4v1h-4zM345 176h8v1h-8zM361 176h6v1h-6zM575 176h1v1h-1zM723 176h1v1h-1zM806 176h1v1h-1zM855 176h2v1h-2zM871 176h4v1h-4zM931 176h2v1h-2zM1161 176h2v1h-2zM305 177h14v1h-14zM353 177h8v1h-8zM575 177h1v1h-1zM722 177h1v1h-1zM807 177h2v1h-2zM849 177h6v1h-6zM875 177h3v1h-3zM929 177h2v1h-2zM1163 177h2v1h-2zM576 178h1v1h-1zM721 178h1v1h-1zM809 178h1v1h-1zM844 178h5v1h-5zM878 178h2v1h-2zM928 178h1v1h-1zM1165 178h1v1h-1zM576 179h1v1h-1zM720 179h1v1h-1zM810 179h1v1h-1zM842 179h2v1h-2zM880 179h1v1h-1zM926 179h2v1h-2zM1166 179h2v1h-2zM577 180h1v1h-1zM719 180h1v1h-1zM811 180h2v1h-2zM840 180h2v1h-2zM881 180h2v1h-2zM924 180h2v1h-2zM1168 180h1v1h-1zM577 181h1v1h-1zM718 181h1v1h-1zM813 181h1v1h-1zM838 181h2v1h-2zM883 181h2v1h-2zM922 181h2v1h-2zM1169 181h2v1h-2zM577 182h1v1h-1zM717 182h1v1h-1zM814 182h1v1h-1zM837 182h1v1h-1zM885 182h2v1h-2zM920 182h2v1h-2zM1171 182h2v1h-2zM578 183h1v1h-1zM716 183h1v1h-1zM815 183h2v1h-2zM835 183h2v1h-2zM887 183h2v1h-2zM918 183h2v1h-2zM1173 183h1v1h-1zM578 184h1v1h-1zM716 184h1v1h-1zM817 184h1v1h-1zM833 184h2v1h-2zM889 184h3v1h-3zM915 184h3v1h-3zM579 185h1v1h-1zM715 185h1v1h-1zM818 185h1v1h-1zM832 185h1v1h-1zM892 185h3v1h-3zM911 185h4v1h-4zM579 186h1v1h-1zM715 186h1v1h-1zM819 186h2v1h-2zM830 186h2v1h-2zM895 186h4v1h-4zM905 186h6v1h-6zM579 187h1v1h-1zM714 187h1v1h-1zM821 187h9v1h-9zM899 187h6v1h-6zM580 188h1v1h-1zM714 188h1v1h-1zM580 189h1v1h-1zM713 189h1v1h-1zM581 190h1v1h-1zM712 190h1v1h-1zM581 191h1v1h-1zM712 191h1v1h-1zM581 192h1v1h-1zM711 192h1v1h-1zM582 193h1v1h-1zM711 193h1v1h-1zM582 194h1v1h-1zM710 194h1v1h-1zM583 195h1v1h-1zM710 195h1v1h-1zM583 196h1v1h-1zM709 196h1v1h-1zM583 197h1v1h-1zM709 197h1v1h-1zM584 198h1v1h-1zM708 198h1v1h-1zM584 199h1v1h-1zM708 199h1v1h-1zM585 200h1v1h-1zM707 200h1v1h-1zM585 201h1v1h-1zM707 201h1v1h-1zM585 202h1v1h-1zM707 202h1v1h-1zM586 203h1v1h-1zM706 203h1v1h-1zM586 204h1v1h-1zM706 204h1v1h-1zM587 205h1v1h-1zM706 205h1v1h-1zM587 206h1v1h-1zM705 206h1v1h-1zM587 207h1v1h-1zM705 207h1v1h-1zM588 208h1v1h-1zM704 208h1v1h-1zM588 209h1v1h-1zM704 209h1v1h-1zM589 210h1v1h-1zM704 210h1v1h-1zM589 211h1v1h-1zM703 211h1v1h-1zM589 212h1v1h-1zM703 212h1v1h-1zM590 213h1v1h-1zM703 213h1v1h-1zM590 214h1v1h-1zM702 214h1v1h-1zM590 215h1v1h-1zM702 215h1v1h-1zM591 216h1v1h-1zM701 216h1v1h-1zM591 217h1v1h-1zM701 217h1v1h-1zM592 218h1v1h-1zM701 218h1v1h-1zM592 219h1v1h-1zM700 219h1v1h-1zM592 220h1v1h-1zM700 220h1v1h-1zM593 221h1v1h-1zM699 221h1v1h-1zM593 222h1v1h-1zM699 222h1v1h-1zM593 223h1v1h-1zM699 223h1v1h-1zM594 224h1v1h-1zM698 224h1v1h-1zM594 225h1v1h-1zM698 225h1v1h-1zM594 226h1v1h-1zM697 226h1v1h-1zM595 227h1v1h-1zM697 227h1v1h-1zM595 228h1v1h-1zM697 228h1v1h-1zM596 229h1v1h-1zM696 229h1v1h-1zM596 230h1v1h-1zM696 230h1v1h-1zM596 231h1v1h-1zM695 231h1v1h-1zM597 232h1v1h-1zM695 232h1v1h-1zM597 233h1v1h-1zM695 233h1v1h-1zM597 234h1v1h-1zM694 234h1v1h-1zM598 235h1v1h-1zM694 235h1v1h-1zM598 236h1v1h-1zM693 236h1v1h-1zM599 237h1v1h-1zM693 237h1v1h-1zM599 238h1v1h-1zM693 238h1v1h-1zM600 239h1v1h-1zM692 239h1v1h-1zM600 240h1v1h-1zM692 240h1v1h-1zM600 241h1v1h-1zM691 241h1v1h-1zM601 242h1v1h-1zM691 242h1v1h-1zM601 243h1v1h-1zM690 243h1v1h-1zM602 244h1v1h-1zM690 244h1v1h-1zM602 245h1v1h-1zM690 245h1v1h-1zM602 246h1v1h-1zM689 246h1v1h-1zM603 247h1v1h-1zM689 247h1v1h-1zM603 248h1v1h-1zM688 248h1v1h-1zM604 249h1v1h-1zM688 249h1v1h-1zM604 250h1v1h-1zM688 250h1v1h-1zM605 251h1v1h-1zM687 251h1v1h-1zM605 252h1v1h-1zM687 252h1v1h-1zM605 253h1v1h-1zM686 253h1v1h-1zM606 254h1v1h-1zM686 254h1v1h-1zM606 255h1v1h-1zM685 255h1v1h-1zM607 256h1v1h-1zM685 256h1v1h-1zM607 257h1v1h-1zM685 257h1v1h-1zM608 258h1v1h-1zM684 258h1v1h-1zM608 259h1v1h-1zM684 259h1v1h-1zM609 260h1v1h-1zM683 260h1v1h-1zM609 261h1v1h-1zM683 261h1v1h-1zM609 262h1v1h-1zM682 262h1v1h-1zM610 263h1v1h-1zM682 263h1v1h-1zM610 264h1v1h-1zM681 264h1v1h-1zM611 265h1v1h-1zM681 265h1v1h-1zM611 266h1v1h-1zM680 266h1v1h-1zM612 267h1v1h-1zM680 267h1v1h-1zM612 268h1v1h-1zM679 268h1v1h-1zM613 269h1v1h-1zM679 269h1v1h-1zM613 270h1v1h-1zM678 270h1v1h-1zM614 271h1v1h-1zM678 271h1v1h-1zM615 272h1v1h-1zM677 272h1v1h-1zM616 273h1v1h-1zM677 273h1v1h-1zM617 274h1v1h-1zM676 274h1v1h-1zM617 275h1v1h-1zM676 275h1v1h-1zM618 276h1v1h-1zM675 276h1v1h-1zM619 277h1v1h-1zM675 277h1v1h-1zM620 278h1v1h-1zM674 278h1v1h-1zM621 279h1v1h-1zM674 279h1v1h-1zM622 280h1v1h-1zM673 280h1v1h-1zM622 281h1v1h-1zM672 281h1v1h-1zM623 282h1v1h-1zM672 282h1v1h-1zM624 283h1v1h-1zM671 283h1v1h-1zM625 284h1v1h-1zM671 284h1v1h-1zM625 285h1v1h-1zM670 285h1v1h-1zM626 286h1v1h-1zM670 286h1v1h-1zM627 287h1v1h-1zM669 287h1v1h-1zM628 288h1v1h-1zM668 288h1v1h-1zM628 289h1v1h-1zM668 289h1v1h-1zM629 290h1v1h-1zM667 290h1v1h-1zM630 291h1v1h-1zM667 291h1v1h-1zM631 292h2v1h-2zM666 292h1v1h-1zM633 293h1v1h-1zM665 293h1v1h-1zM634 294h1v1h-1zM665 294h1v1h-1zM635 295h2v1h-2zM664 295h1v1h-1zM637 296h1v1h-1zM663 296h1v1h-1zM638 297h1v1h-1zM663 297h1v1h-1zM639 298h1v1h-1zM662 298h1v1h-1zM639 299h1v1h-1zM662 299h1v1h-1zM640 300h1v1h-1zM661 300h1v1h-1zM641 301h1v1h-1zM659 301h2v1h-2zM642 302h1v1h-1zM658 302h1v1h-1zM643 303h1v1h-1zM657 303h1v1h-1zM643 304h1v1h-1zM655 304h2v1h-2zM644 305h1v1h-1zM654 305h1v1h-1zM645 306h9v1h-9z" fill="#ff0000"/>
<path d="M5 72h2v1h-2zM7 73h2v1h-2zM9 74h3v1h-3zM12 75h2v1h-2zM14 76h2v1h-2zM16 77h2v1h-2zM18 78h2v1h-2zM701 78h1v1h-1zM20 79h2v1h-2zM700 79h1v1h-1zM702 79h1v1h-1zM22 80h1v1h-1zM699 80h1v1h-1zM703 80h1v1h-1zM23 81h2v1h-2zM699 81h1v1h-1zM704 81h1v1h-1zM25 82h1v1h-1zM698 82h1v1h-1zM705 82h1v1h-1zM26 83h1v1h-1zM697 83h1v1h-1zM706 83h1v1h-1zM27 84h2v1h-2zM696 84h1v1h-1zM707 84h1v1h-1zM29 85h1v1h-1zM695 85h1v1h-1zM708 85h1v1h-1zM30 86h1v1h-1zM695 86h1v1h-1zM709 86h1v1h-1zM31 87h1v1h-1zM694 87h1v1h-1zM709 87h1v1h-1zM32 88h1v1h-1zM693 88h1v1h-1zM710 88h1v1h-1zM33 89h1v1h-1zM693 89h1v1h-1zM710 89h1v1h-1zM33 90h1v1h-1zM692 90h1v1h-1zM710 90h1v1h-1zM34 91h1v1h-1zM692 91h1v1h-1zM710 91h1v1h-1zM35 92h1v1h-1zM692 92h1v1h-1zM711 92h1v1h-1zM36 93h1v1h-1zM691 93h1v1h-1zM711 93h1v1h-1zM37 94h1v1h-1zM691 94h1v1h-1zM711 94h1v1h-1zM38 95h1v1h-1zM473 95h5v1h-5zM690 95h1v1h-1zM712 95h1v1h-1zM39 96h2v1h-2zM469 96h4v1h-4zM478 96h2v1h-2zM690 96h1v1h-1zM712 96h1v1h-1zM41 97h1v1h-1zM467 97h2v1h-2zM480 97h2v1h-2zM690 97h1v1h-1zM712 97h1v1h-1zM42 98h1v1h-1zM466 98h1v1h-1zM482 98h2v1h-2zM689 98h1v1h-1zM712 98h1v1h-1zM43 99h2v1h-2zM465 99h1v1h-1zM484 99h2v1h-2zM689 99h1v1h-1zM713 99h1v1h-1zM45 100h2v1h-2zM81 100h13v1h-13zM463 100h2v1h-2zM486 100h2v1h-2zM689 100h1v1h-1zM713 100h1v1h-1zM47 101h2v1h-2zM68 101h13v1h-13zM94 101h1v1h-1zM462 101h1v1h-1zM488 101h1v1h-1zM688 101h1v1h-1zM713 101h1v1h-1zM49 102h3v1h-3zM65 102h3v1h-3zM95 102h1v1h-1zM461 102h1v1h-1zM489 102h2v1h-2zM688 102h1v1h-1zM714 102h1v1h-1zM52 103h5v1h-5zM63 103h2v1h-2zM96 103h1v1h-1zM459 103h2v1h-2zM491 103h2v1h-2zM688 103h1v1h-1zM714 103h1v1h-1zM57 104h6v1h-6zM97 104h1v1h-1zM458 104h1v1h-1zM493 104h1v1h-1zM687 104h1v1h-1zM714 104h1v1h-1zM97 105h1v1h-1zM457 105h1v1h-1zM494 105h2v1h-2zM687 105h1v1h-1zM714 105h1v1h-1zM98 106h1v1h-1zM455 106h2v1h-2zM496 106h1v1h-1zM686 106h1v1h-1zM715 106h1v1h-1zM99 107h1v1h-1zM454 107h1v1h-1zM497 107h2v1h-2zM686 107h1v1h-1zM715 107h1v1h-1zM100 108h1v1h-1zM453 108h1v1h-1zM499 108h2v1h-2zM686 108h1v1h-1zM715 108h1v1h-1zM101 109h1v1h-1zM451 109h2v1h-2zM501 109h1v1h-1zM685 109h1v1h-1zM716 109h1v1h-1zM102 110h1v1h-1zM450 110h1v1h-1zM502 110h1v1h-1zM685 110h1v1h-1zM716 110h1v1h-1zM102 111h1v1h-1zM449 111h1v1h-1zM503 111h1v1h-1zM685 111h1v1h-1zM716 111h1v1h-1zM103 112h1v1h-1zM447 112h2v1h-2zM504 112h1v1h-1zM685 112h1v1h-1zM716 112h1v1h-1zM104 113h1v1h-1zM446 113h1v1h-1zM505 113h1v1h-1zM685 113h1v1h-1zM717 113h1v1h-1zM105 114h1v1h-1zM445 114h1v1h-1zM505 114h1v1h-1zM684 114h1v1h-1zM717 114h1v1h-1zM105 115h1v1h-1zM443 115h2v1h-2zM506 115h1v1h-1zM684 115h1v1h-1zM717 115h1v1h-1zM106 116h1v1h-1zM442 116h1v1h-1zM507 116h1v1h-1zM684 116h1v1h-1zM717 116h1v1h-1zM107 117h1v1h-1zM441 117h1v1h-1zM508 117h1v1h-1zM684 117h1v1h-1zM718 117h1v1h-1zM108 118h1v1h-1zM439 118h2v1h-2zM509 118h1v1h-1zM684 118h1v1h-1zM718 118h1v1h-1zM108 119h1v1h-1zM438 119h1v1h-1zM510 119h1v1h-1zM684 119h1v1h-1zM718 119h1v1h-1zM109 120h1v1h-1zM437 120h1v1h-1zM511 120h2v1h-2zM683 120h1v1h-1zM718 120h1v1h-1zM110 121h1v1h-1zM435 121h2v1h-2zM513 121h1v1h-1zM683 121h1v1h-1zM718 121h1v1h-1zM110 122h1v1h-1zM433 122h2v1h-2zM514 122h1v1h-1zM683 122h1v1h-1zM719 122h1v1h-1zM111 123h1v1h-1zM432 123h1v1h-1zM515 123h2v1h-2zM683 123h1v1h-1zM719 123h1v1h-1zM111 124h1v1h-1zM430 124h2v1h-2zM517 124h1v1h-1zM683 124h1v1h-1zM719 124h1v1h-1zM112 125h1v1h-1zM428 125h2v1h-2zM518 125h1v1h-1zM683 125h1v1h-1zM719 125h1v1h-1zM112 126h1v1h-1zM425 126h3v1h-3zM519 126h1v1h-1zM683 126h1v1h-1zM719 126h1v1h-1zM113 127h1v1h-1zM423 127h2v1h-2zM519 127h1v1h-1zM682 127h1v1h-1zM720 127h1v1h-1zM113 128h1v1h-1zM419 128h4v1h-4zM520 128h1v1h-1zM682 128h1v1h-1zM720 128h1v1h-1zM114 129h1v1h-1zM415 129h4v1h-4zM521 129h1v1h-1zM682 129h1v1h-1zM720 129h1v1h-1zM114 130h1v1h-1zM413 130h2v1h-2zM522 130h1v1h-1zM682 130h1v1h-1zM720 130h1v1h-1zM115 131h1v1h-1zM411 131h2v1h-2zM523 131h1v1h-1zM682 131h1v1h-1zM720 131h1v1h-1zM115 132h1v1h-1zM409 132h2v1h-2zM523 132h1v1h-1zM682 132h1v1h-1zM721 132h1v1h-1zM116 133h1v1h-1zM408 133h1v1h-1zM524 133h1v1h-1zM681 133h1v1h-1zM721 133h1v1h-1zM116 134h1v1h-1zM406 134h2v1h-2zM525 134h1v1h-1zM681 134h1v1h-1zM721 134h1v1h-1zM117 135h1v1h-1zM405 135h1v1h-1zM526 135h1v1h-1zM681 135h1v1h-1zM721 135h1v1h-1zM118 136h1v1h-1zM404 136h1v1h-1zM526 136h1v1h-1zM681 136h1v1h-1zM721 136h1v1h-1zM118 137h1v1h-1zM403 137h1v1h-1zM527 137h1v1h-1zM681 137h1v1h-1zM721 137h1v1h-1zM119 138h1v1h-1zM402 138h1v1h-1zM528 138h1v1h-1zM681 138h1v1h-1zM722 138h1v1h-1zM119 139h1v1h-1zM401 139h1v1h-1zM528 139h1v1h-1zM681 139h1v1h-1zM722 139h1v1h-1zM947 139h3v1h-3zM120 140h1v1h-1zM401 140h1v1h-1zM529 140h1v1h-1zM680 140h1v1h-1zM722 140h1v1h-1zM796 140h3v1h-3zM943 140h4v1h-4zM950 140h1v1h-1zM120 141h1v1h-1zM400 141h1v1h-1zM530 141h1v1h-1zM680 141h1v1h-1zM722 141h1v1h-1zM794 141h2v1h-2zM799 141h2v1h-2zM940 141h3v1h-3zM951 141h1v1h-1zM121 142h1v1h-1zM399 142h1v1h-1zM530 142h1v1h-1zM680 142h1v1h-1zM722 142h1v1h-1zM792 142h2v1h-2zM801 142h3v1h-3zM938 142h2v1h-2zM951 142h1v1h-1zM122 143h1v1h-1zM398 143h1v1h-1zM531 143h1v1h-1zM680 143h1v1h-1zM723 143h1v1h-1zM790 143h2v1h-2zM804 143h2v1h-2zM936 143h2v1h-2zM952 143h1v1h-1zM122 144h1v1h-1zM397 144h1v1h-1zM532 144h1v1h-1zM680 144h1v1h-1zM723 144h1v1h-1zM789 144h1v1h-1zM806 144h1v1h-1zM934 144h2v1h-2zM953 144h1v1h-1zM123 145h1v1h-1zM396 145h1v1h-1zM532 145h1v1h-1zM680 145h1v1h-1zM723 145h1v1h-1zM789 145h1v1h-1zM806 145h1v1h-1zM933 145h1v1h-1zM954 145h1v1h-1zM123 146h1v1h-1zM396 146h1v1h-1zM533 146h1v1h-1zM679 146h1v1h-1zM723 146h1v1h-1zM788 146h1v1h-1zM807 146h1v1h-1zM932 146h1v1h-1zM955 146h1v1h-1zM124 147h1v1h-1zM395 147h1v1h-1zM534 147h1v1h-1zM679 147h1v1h-1zM723 147h1v1h-1zM788 147h1v1h-1zM807 147h1v1h-1zM931 147h1v1h-1zM955 147h1v1h-1zM124 148h1v1h-1zM395 148h1v1h-1zM534 148h1v1h-1zM679 148h1v1h-1zM724 148h1v1h-1zM787 148h1v1h-1zM808 148h1v1h-1zM930 148h1v1h-1zM956 148h1v1h-1zM125 149h1v1h-1zM394 149h1v1h-1zM535 149h1v1h-1zM679 149h1v1h-1zM724 149h1v1h-1zM787 149h1v1h-1zM808 149h1v1h-1zM929 149h1v1h-1zM957 149h1v1h-1zM125 150h1v1h-1zM394 150h1v1h-1zM535 150h1v1h-1zM679 150h1v1h-1zM724 150h1v1h-1zM786 150h1v1h-1zM809 150h1v1h-1zM928 150h1v1h-1zM957 150h1v1h-1zM126 151h1v1h-1zM393 151h1v1h-1zM536 151h1v1h-1zM679 151h1v1h-1zM724 151h1v1h-1zM786 151h1v1h-1zM810 151h1v1h-1zM927 151h1v1h-1zM958 151h1v1h-1zM126 152h1v1h-1zM392 152h1v1h-1zM536 152h1v1h-1zM679 152h1v1h-1zM724 152h1v1h-1zM785 152h1v1h-1zM810 152h1v1h-1zM926 152h1v1h-1zM958 152h1v1h-1zM127 153h1v1h-1zM392 153h1v1h-1zM537 153h1v1h-1zM678 153h1v1h-1zM725 153h1v1h-1zM785 153h1v1h-1zM811 153h1v1h-1zM925 153h1v1h-1zM959 153h1v1h-1zM127 154h1v1h-1zM391 154h1v1h-1zM537 154h1v1h-1zM678 154h1v1h-1zM725 154h1v1h-1zM784 154h1v1h-1zM811 154h1v1h-1zM924 154h1v1h-1zM959 154h1v1h-1zM128 155h1v1h-1zM391 155h1v1h-1zM538 155h1v1h-1zM678 155h1v1h-1zM725 155h1v1h-1zM784 155h1v1h-1zM812 155h1v1h-1zM923 155h1v1h-1zM960 155h1v1h-1zM1021 155h9v1h-9zM128 156h1v1h-1zM390 156h1v1h-1zM538 156h1v1h-1zM678 156h1v1h-1zM725 156h1v1h-1zM783 156h1v1h-1zM812 156h1v1h-1zM923 156h1v1h-1zM960 156h1v1h-1zM1020 156h1v1h-1zM1030 156h1v1h-1zM129 157h1v1h-1zM204 157h5v1h-5zM390 157h1v1h-1zM539 157h1v1h-1zM678 157h1v1h-1zM725 157h1v1h-1zM783 157h1v1h-1zM813 157h1v1h-1zM922 157h1v1h-1zM960 157h1v1h-1zM1019 157h1v1h-1zM1031 157h1v1h-1zM129 158h1v1h-1zM202 158h2v1h-2zM209 158h6v1h-6zM325 158h2v1h-2zM389 158h1v1h-1zM539 158h1v1h-1zM678 158h1v1h-1zM726 158h1v1h-1zM782 158h1v1h-1zM814 158h1v1h-1zM921 158h1v1h-1zM961 158h1v1h-1zM1017 158h2v1h-2zM1032 158h1v1h-1zM1083 158h3v1h-3zM130 159h1v1h-1zM200 159h2v1h-2zM215 159h4v1h-4zM324 159h1v1h-1zM327 159h2v1h-2zM389 159h1v1h-1zM540 159h1v1h-1zM677 159h1v1h-1zM726 159h1v1h-1zM782 159h1v1h-1zM814 159h1v1h-1zM920 159h1v1h-1zM961 159h1v1h-1zM1016 159h1v1h-1zM1033 159h1v1h-1zM1079 159h4v1h-4zM1086 159h1v1h-1zM130 160h1v1h-1zM198 160h2v1h-2zM219 160h3v1h-3zM323 160h1v1h-1zM329 160h3v1h-3zM388 160h1v1h-1zM540 160h1v1h-1zM677 160h1v1h-1zM726 160h1v1h-1zM781 160h1v1h-1zM815 160h1v1h-1zM919 160h1v1h-1zM962 160h1v1h-1zM1015 160h1v1h-1zM1034 160h1v1h-1zM1076 160h3v1h-3zM1087 160h1v1h-1zM131 161h1v1h-1zM195 161h3v1h-3zM222 161h1v1h-1zM321 161h2v1h-2zM332 161h2v1h-2zM388 161h1v1h-1zM541 161h1v1h-1zM677 161h1v1h-1zM726 161h1v1h-1zM781 161h1v1h-1zM815 161h1v1h-1zM919 161h1v1h-1zM962 161h1v1h-1zM1014 161h1v1h-1zM1035 161h1v1h-1zM1073 161h3v1h-3zM1088 161h1v1h-1zM131 162h1v1h-1zM191 162h4v1h-4zM223 162h1v1h-1zM320 162h1v1h-1zM334 162h1v1h-1zM387 162h1v1h-1zM541 162h1v1h-1zM677 162h1v1h-1zM727 162h1v1h-1zM781 162h1v1h-1zM816 162h1v1h-1zM918 162h1v1h-1zM962 162h1v1h-1zM1013 162h1v1h-1zM1036 162h1v1h-1zM1071 162h2v1h-2zM1089 162h1v1h-1zM132 163h1v1h-1zM188 163h3v1h-3zM223 163h1v1h-1zM319 163h1v1h-1zM335 163h1v1h-1zM387 163h1v1h-1zM542 163h1v1h-1zM677 163h1v1h-1zM727 163h1v1h-1zM780 163h1v1h-1zM816 163h1v1h-1zM917 163h1v1h-1zM963 163h1v1h-1zM1012 163h1v1h-1zM1037 163h1v1h-1zM1059 163h12v1h-12zM1089 163h1v1h-1zM132 164h1v1h-1zM185 164h3v1h-3zM224 164h1v1h-1zM318 164h1v1h-1zM336 164h1v1h-1zM386 164h1v1h-1zM542 164h1v1h-1zM677 164h1v1h-1zM727 164h1v1h-1zM780 164h1v1h-1zM817 164h1v1h-1zM916 164h1v1h-1zM963 164h1v1h-1zM1011 164h1v1h-1zM1038 164h2v1h-2zM1055 164h4v1h-4zM1090 164h1v1h-1zM133 165h1v1h-1zM183 165h2v1h-2zM225 165h1v1h-1zM317 165h1v1h-1zM337 165h1v1h-1zM386 165h1v1h-1zM543 165h1v1h-1zM676 165h1v1h-1zM727 165h1v1h-1zM779 165h1v1h-1zM818 165h1v1h-1zM915 165h1v1h-1zM964 165h1v1h-1zM1011 165h1v1h-1zM1040 165h1v1h-1zM1052 165h3v1h-3zM1091 165h1v1h-1zM133 166h1v1h-1zM177 166h6v1h-6zM226 166h1v1h-1zM315 166h2v1h-2zM338 166h1v1h-1zM385 166h1v1h-1zM543 166h1v1h-1zM676 166h1v1h-1zM727 166h1v1h-1zM779 166h1v1h-1zM818 166h1v1h-1zM914 166h1v1h-1zM964 166h1v1h-1zM1010 166h1v1h-1zM1041 166h2v1h-2zM1049 166h3v1h-3zM1092 166h1v1h-1zM134 167h1v1h-1zM173 167h4v1h-4zM227 167h1v1h-1zM313 167h2v1h-2zM339 167h1v1h-1zM385 167h1v1h-1zM543 167h1v1h-1zM676 167h1v1h-1zM728 167h1v1h-1zM778 167h1v1h-1zM819 167h1v1h-1zM913 167h1v1h-1zM965 167h1v1h-1zM1009 167h1v1h-1zM1043 167h2v1h-2zM1047 167h2v1h-2zM1093 167h2v1h-2zM1116 167h3v1h-3zM1132 167h5v1h-5zM135 168h1v1h-1zM171 168h2v1h-2zM227 168h1v1h-1zM312 168h1v1h-1zM340 168h1v1h-1zM384 168h1v1h-1zM544 168h1v1h-1zM676 168h1v1h-1zM728 168h1v1h-1zM778 168h1v1h-1zM819 168h1v1h-1zM913 168h1v1h-1zM965 168h1v1h-1zM1008 168h1v1h-1zM1045 168h2v1h-2zM1095 168h2v1h-2zM1113 168h3v1h-3zM1119 168h2v1h-2zM1129 168h3v1h-3zM1137 168h5v1h-5zM136 169h1v1h-1zM170 169h1v1h-1zM228 169h1v1h-1zM310 169h2v1h-2zM341 169h1v1h-1zM384 169h1v1h-1zM544 169h1v1h-1zM676 169h1v1h-1zM728 169h1v1h-1zM778 169h1v1h-1zM820 169h1v1h-1zM912 169h1v1h-1zM965 169h1v1h-1zM1007 169h1v1h-1zM1097 169h3v1h-3zM1111 169h2v1h-2zM1121 169h3v1h-3zM1127 169h2v1h-2zM1142 169h1v1h-1zM137 170h1v1h-1zM169 170h1v1h-1zM229 170h1v1h-1zM307 170h3v1h-3zM342 170h1v1h-1zM383 170h1v1h-1zM545 170h1v1h-1zM675 170h1v1h-1zM728 170h1v1h-1zM777 170h1v1h-1zM820 170h1v1h-1zM911 170h1v1h-1zM966 170h1v1h-1zM1007 170h1v1h-1zM1100 170h11v1h-11zM1124 170h3v1h-3zM1143 170h1v1h-1zM138 171h1v1h-1zM167 171h2v1h-2zM230 171h1v1h-1zM303 171h4v1h-4zM343 171h1v1h-1zM383 171h1v1h-1zM545 171h1v1h-1zM675 171h1v1h-1zM729 171h1v1h-1zM777 171h1v1h-1zM821 171h1v1h-1zM910 171h1v1h-1zM966 171h1v1h-1zM1006 171h1v1h-1zM1143 171h1v1h-1zM139 172h1v1h-1zM166 172h1v1h-1zM230 172h1v1h-1zM299 172h4v1h-4zM344 172h1v1h-1zM382 172h1v1h-1zM545 172h1v1h-1zM675 172h1v1h-1zM729 172h1v1h-1zM776 172h1v1h-1zM822 172h1v1h-1zM909 172h1v1h-1zM967 172h1v1h-1zM1005 172h1v1h-1zM1144 172h1v1h-1zM140 173h1v1h-1zM156 173h10v1h-10zM231 173h1v1h-1zM295 173h4v1h-4zM345 173h1v1h-1zM382 173h1v1h-1zM546 173h1v1h-1zM675 173h1v1h-1zM729 173h1v1h-1zM776 173h1v1h-1zM822 173h1v1h-1zM908 173h1v1h-1zM967 173h1v1h-1zM1005 173h1v1h-1zM1145 173h1v1h-1zM141 174h2v1h-2zM154 174h2v1h-2zM232 174h1v1h-1zM292 174h3v1h-3zM346 174h1v1h-1zM381 174h1v1h-1zM546 174h1v1h-1zM675 174h1v1h-1zM729 174h1v1h-1zM776 174h1v1h-1zM823 174h1v1h-1zM907 174h1v1h-1zM968 174h1v1h-1zM1004 174h1v1h-1zM1146 174h1v1h-1zM143 175h2v1h-2zM152 175h2v1h-2zM232 175h1v1h-1zM290 175h2v1h-2zM347 175h1v1h-1zM380 175h1v1h-1zM547 175h1v1h-1zM674 175h1v1h-1zM729 175h1v1h-1zM775 175h1v1h-1zM823 175h1v1h-1zM906 175h1v1h-1zM968 175h1v1h-1zM1004 175h1v1h-1zM1147 175h1v1h-1zM145 176h3v1h-3zM150 176h2v1h-2zM233 176h1v1h-1zM288 176h2v1h-2zM348 176h1v1h-1zM380 176h1v1h-1zM547 176h1v1h-1zM674 176h1v1h-1zM730 176h1v1h-1zM775 176h1v1h-1zM824 176h1v1h-1zM905 176h1v1h-1zM969 176h1v1h-1zM1003 176h1v1h-1zM1147 176h1v1h-1zM148 177h2v1h-2zM234 177h1v1h-1zM286 177h2v1h-2zM349 177h1v1h-1zM379 177h1v1h-1zM547 177h1v1h-1zM674 177h1v1h-1zM730 177h1v1h-1zM774 177h1v1h-1zM824 177h1v1h-1zM905 177h1v1h-1zM969 177h1v1h-1zM1003 177h1v1h-1zM1148 177h1v1h-1zM234 178h1v1h-1zM281 178h5v1h-5zM350 178h1v1h-1zM379 178h1v1h-1zM548 178h1v1h-1zM674 178h1v1h-1zM730 178h1v1h-1zM774 178h1v1h-1zM825 178h1v1h-1zM904 178h1v1h-1zM970 178h1v1h-1zM1002 178h1v1h-1zM1149 178h1v1h-1zM235 179h1v1h-1zM277 179h4v1h-4zM351 179h1v1h-1zM378 179h1v1h-1zM548 179h1v1h-1zM674 179h1v1h-1zM730 179h1v1h-1zM773 179h1v1h-1zM826 179h1v1h-1zM903 179h1v1h-1zM970 179h1v1h-1zM1002 179h1v1h-1zM1150 179h1v1h-1zM236 180h1v1h-1zM276 180h1v1h-1zM352 180h1v1h-1zM377 180h1v1h-1zM549 180h1v1h-1zM673 180h1v1h-1zM731 180h1v1h-1zM773 180h1v1h-1zM826 180h1v1h-1zM902 180h1v1h-1zM971 180h1v1h-1zM1002 180h1v1h-1zM1150 180h1v1h-1zM236 181h1v1h-1zM275 181h1v1h-1zM353 181h1v1h-1zM377 181h1v1h-1zM549 181h1v1h-1zM673 181h1v1h-1zM731 181h1v1h-1zM773 181h1v1h-1zM827 181h1v1h-1zM899 181h3v1h-3zM971 181h1v1h-1zM1001 181h1v1h-1zM1151 181h1v1h-1zM237 182h1v1h-1zM274 182h1v1h-1zM353 182h1v1h-1zM376 182h1v1h-1zM549 182h1v1h-1zM673 182h1v1h-1zM731 182h1v1h-1zM772 182h1v1h-1zM827 182h1v1h-1zM895 182h4v1h-4zM972 182h1v1h-1zM1001 182h1v1h-1zM1151 182h1v1h-1zM238 183h2v1h-2zM273 183h1v1h-1zM354 183h1v1h-1zM375 183h1v1h-1zM550 183h1v1h-1zM673 183h1v1h-1zM731 183h1v1h-1zM772 183h1v1h-1zM828 183h1v1h-1zM893 183h2v1h-2zM972 183h1v1h-1zM1000 183h1v1h-1zM1152 183h1v1h-1zM240 184h1v1h-1zM272 184h1v1h-1zM355 184h1v1h-1zM375 184h1v1h-1zM550 184h1v1h-1zM672 184h1v1h-1zM731 184h1v1h-1zM772 184h1v1h-1zM828 184h1v1h-1zM891 184h2v1h-2zM973 184h1v1h-1zM1000 184h1v1h-1zM1153 184h1v1h-1zM241 185h2v1h-2zM271 185h1v1h-1zM356 185h1v1h-1zM374 185h1v1h-1zM550 185h1v1h-1zM672 185h1v1h-1zM732 185h1v1h-1zM772 185h1v1h-1zM829 185h1v1h-1zM890 185h1v1h-1zM973 185h1v1h-1zM1000 185h1v1h-1zM1153 185h1v1h-1zM243 186h2v1h-2zM270 186h1v1h-1zM357 186h1v1h-1zM374 186h1v1h-1zM550 186h1v1h-1zM672 186h1v1h-1zM732 186h1v1h-1zM771 186h1v1h-1zM830 186h2v1h-2zM889 186h1v1h-1zM974 186h1v1h-1zM999 186h1v1h-1zM1154 186h1v1h-1zM245 187h1v1h-1zM268 187h2v1h-2zM358 187h1v1h-1zM373 187h1v1h-1zM551 187h1v1h-1zM672 187h1v1h-1zM732 187h1v1h-1zM771 187h1v1h-1zM832 187h2v1h-2zM887 187h2v1h-2zM974 187h1v1h-1zM999 187h1v1h-1zM1155 187h1v1h-1zM246 188h2v1h-2zM265 188h3v1h-3zM359 188h1v1h-1zM371 188h2v1h-2zM551 188h1v1h-1zM672 188h1v1h-1zM732 188h1v1h-1zM771 188h1v1h-1zM834 188h2v1h-2zM886 188h1v1h-1zM975 188h1v1h-1zM998 188h1v1h-1zM1155 188h1v1h-1zM248 189h2v1h-2zM263 189h2v1h-2zM360 189h1v1h-1zM370 189h1v1h-1zM551 189h1v1h-1zM671 189h1v1h-1zM733 189h1v1h-1zM771 189h1v1h-1zM836 189h2v1h-2zM885 189h1v1h-1zM976 189h1v1h-1zM998 189h1v1h-1zM1156 189h1v1h-1zM250 190h2v1h-2zM257 190h6v1h-6zM361 190h2v1h-2zM369 190h1v1h-1zM552 190h1v1h-1zM671 190h1v1h-1zM733 190h1v1h-1zM770 190h1v1h-1zM838 190h1v1h-1zM884 190h1v1h-1zM977 190h1v1h-1zM997 190h1v1h-1zM1156 190h1v1h-1zM252 191h5v1h-5zM363 191h1v1h-1zM367 191h2v1h-2zM552 191h1v1h-1zM671 191h1v1h-1zM733 191h1v1h-1zM770 191h1v1h-1zM838 191h1v1h-1zM883 191h1v1h-1zM977 191h1v1h-1zM997 191h1v1h-1zM1157 191h1v1h-1zM364 192h1v1h-1zM366 192h1v1h-1zM552 192h1v1h-1zM671 192h1v1h-1zM733 192h1v1h-1zM770 192h1v1h-1zM839 192h1v1h-1zM882 192h1v1h-1zM978 192h1v1h-1zM996 192h1v1h-1zM1158 192h1v1h-1zM365 193h1v1h-1zM553 193h1v1h-1zM671 193h1v1h-1zM734 193h1v1h-1zM770 193h1v1h-1zM839 193h1v1h-1zM881 193h1v1h-1zM979 193h1v1h-1zM995 193h1v1h-1zM1158 193h1v1h-1zM553 194h1v1h-1zM670 194h1v1h-1zM734 194h1v1h-1zM769 194h1v1h-1zM840 194h1v1h-1zM880 194h1v1h-1zM980 194h1v1h-1zM994 194h1v1h-1zM1159 194h1v1h-1zM553 195h1v1h-1zM670 195h1v1h-1zM734 195h1v1h-1zM769 195h1v1h-1zM841 195h1v1h-1zM879 195h1v1h-1zM980 195h1v1h-1zM993 195h1v1h-1zM1160 195h1v1h-1zM553 196h1v1h-1zM670 196h1v1h-1zM735 196h1v1h-1zM769 196h1v1h-1zM841 196h1v1h-1zM878 196h1v1h-1zM981 196h1v1h-1zM993 196h1v1h-1zM1161 196h1v1h-1zM554 197h1v1h-1zM670 197h1v1h-1zM735 197h1v1h-1zM768 197h1v1h-1zM842 197h1v1h-1zM861 197h17v1h-17zM982 197h2v1h-2zM992 197h1v1h-1zM1161 197h1v1h-1zM554 198h1v1h-1zM670 198h1v1h-1zM735 198h1v1h-1zM768 198h1v1h-1zM843 198h1v1h-1zM859 198h2v1h-2zM984 198h2v1h-2zM991 198h1v1h-1zM1162 198h1v1h-1zM554 199h1v1h-1zM669 199h1v1h-1zM736 199h1v1h-1zM768 199h1v1h-1zM843 199h1v1h-1zM858 199h1v1h-1zM986 199h2v1h-2zM990 199h1v1h-1zM1163 199h1v1h-1zM555 200h1v1h-1zM669 200h1v1h-1zM736 200h1v1h-1zM768 200h1v1h-1zM844 200h1v1h-1zM857 200h1v1h-1zM988 200h2v1h-2zM1164 200h1v1h-1zM555 201h1v1h-1zM669 201h1v1h-1zM736 201h1v1h-1zM767 201h1v1h-1zM844 201h1v1h-1zM855 201h2v1h-2zM1164 201h1v1h-1zM555 202h1v1h-1zM669 202h1v1h-1zM737 202h1v1h-1zM767 202h1v1h-1zM845 202h4v1h-4zM854 202h1v1h-1zM1165 202h1v1h-1zM556 203h1v1h-1zM669 203h1v1h-1zM737 203h1v1h-1zM767 203h1v1h-1zM849 203h5v1h-5zM1166 203h1v1h-1zM556 204h1v1h-1zM668 204h1v1h-1zM737 204h1v1h-1zM767 204h1v1h-1zM1167 204h1v1h-1zM556 205h1v1h-1zM668 205h1v1h-1zM737 205h1v1h-1zM766 205h1v1h-1zM1168 205h1v1h-1zM556 206h1v1h-1zM668 206h1v1h-1zM738 206h1v1h-1zM766 206h1v1h-1zM1169 206h1v1h-1zM557 207h1v1h-1zM668 207h1v1h-1zM738 207h1v1h-1zM766 207h1v1h-1zM1170 207h1v1h-1zM557 208h1v1h-1zM668 208h1v1h-1zM738 208h1v1h-1zM766 208h1v1h-1zM1171 208h1v1h-1zM557 209h1v1h-1zM667 209h1v1h-1zM739 209h1v1h-1zM765 209h1v1h-1zM1172 209h1v1h-1zM558 210h1v1h-1zM667 210h1v1h-1zM739 210h1v1h-1zM765 210h1v1h-1zM1173 210h1v1h-1zM558 211h1v1h-1zM667 211h1v1h-1zM739 211h1v1h-1zM765 211h1v1h-1zM559 212h1v1h-1zM667 212h1v1h-1zM740 212h1v1h-1zM764 212h1v1h-1zM559 213h1v1h-1zM666 213h1v1h-1zM740 213h1v1h-1zM764 213h1v1h-1zM560 214h1v1h-1zM666 214h1v1h-1zM740 214h1v1h-1zM763 214h1v1h-1zM560 215h1v1h-1zM666 215h1v1h-1zM741 215h1v1h-1zM763 215h1v1h-1zM561 216h1v1h-1zM666 216h1v1h-1zM741 216h1v1h-1zM763 216h1v1h-1zM561 217h1v1h-1zM666 217h1v1h-1zM741 217h1v1h-1zM762 217h1v1h-1zM561 218h1v1h-1zM665 218h1v1h-1zM742 218h1v1h-1zM762 218h1v1h-1zM562 219h1v1h-1zM665 219h1v1h-1zM742 219h1v1h-1zM762 219h1v1h-1zM562 220h1v1h-1zM665 220h1v1h-1zM743 220h1v1h-1zM761 220h1v1h-1zM563 221h1v1h-1zM665 221h1v1h-1zM743 221h1v1h-1zM761 221h1v1h-1zM563 222h1v1h-1zM665 222h1v1h-1zM744 222h1v1h-1zM760 222h1v1h-1zM564 223h1v1h-1zM664 223h1v1h-1zM744 223h1v1h-1zM760 223h1v1h-1zM564 224h1v1h-1zM664 224h1v1h-1zM744 224h1v1h-1zM760 224h1v1h-1zM565 225h1v1h-1zM664 225h1v1h-1zM745 225h1v1h-1zM759 225h1v1h-1zM565 226h1v1h-1zM664 226h1v1h-1zM745 226h1v1h-1zM759 226h1v1h-1zM565 227h1v1h-1zM664 227h1v1h-1zM746 227h1v1h-1zM759 227h1v1h-1zM566 228h1v1h-1zM663 228h1v1h-1zM746 228h1v1h-1zM758 228h1v1h-1zM566 229h1v1h-1zM663 229h1v1h-1zM746 229h1v1h-1zM758 229h1v1h-1zM566 230h1v1h-1zM663 230h1v1h-1zM747 230h1v1h-1zM757 230h1v1h-1zM567 231h1v1h-1zM663 231h1v1h-1zM747 231h1v1h-1zM756 231h2v1h-2zM567 232h1v1h-1zM662 232h1v1h-1zM748 232h1v1h-1zM754 232h2v1h-2zM568 233h1v1h-1zM662 233h1v1h-1zM748 233h1v1h-1zM752 233h2v1h-2zM568 234h1v1h-1zM662 234h1v1h-1zM749 234h3v1h-3zM568 235h1v1h-1zM662 235h1v1h-1zM749 235h1v1h-1zM569 236h1v1h-1zM662 236h1v1h-1zM569 237h1v1h-1zM661 237h1v1h-1zM569 238h1v1h-1zM661 238h1v1h-1zM570 239h1v1h-1zM661 239h1v1h-1zM570 240h1v1h-1zM661 240h1v1h-1zM570 241h1v1h-1zM660 241h1v1h-1zM571 242h1v1h-1zM660 242h1v1h-1zM571 243h1v1h-1zM660 243h1v1h-1zM572 244h1v1h-1zM659 244h1v1h-1zM572 245h1v1h-1zM659 245h1v1h-1zM572 246h1v1h-1zM659 246h1v1h-1zM573 247h1v1h-1zM658 247h1v1h-1zM573 248h1v1h-1zM658 248h1v1h-1zM573 249h1v1h-1zM658 249h1v1h-1zM573 250h1v1h-1zM657 250h1v1h-1zM574 251h1v1h-1zM657 251h1v1h-1zM574 252h1v1h-1zM656 252h1v1h-1zM574 253h1v1h-1zM656 253h1v1h-1zM574 254h1v1h-1zM656 254h1v1h-1zM575 255h1v1h-1zM655 255h1v1h-1zM575 256h1v1h-1zM655 256h1v1h-1zM575 257h1v1h-1zM655 257h1v1h-1zM575 258h1v1h-1zM654 258h1v1h-1zM576 259h1v1h-1zM654 259h1v1h-1zM576 260h1v1h-1zM654 260h1v1h-1zM576 261h1v1h-1zM653 261h1v1h-1zM576 262h1v1h-1zM653 262h1v1h-1zM576 263h1v1h-1zM653 263h1v1h-1zM577 264h1v1h-1zM653 264h1v1h-1zM577 265h1v1h-1zM652 265h1v1h-1zM577 266h1v1h-1zM652 266h1v1h-1zM577 267h1v1h-1zM652 267h1v1h-1zM578 268h1v1h-1zM652 268h1v1h-1zM578 269h1v1h-1zM651 269h1v1h-1zM578 270h1v1h-1zM651 270h1v1h-1zM578 271h1v1h-1zM651 271h1v1h-1zM578 272h1v1h-1zM651 272h1v1h-1zM579 273h1v1h-1zM650 273h1v1h-1zM579 274h1v1h-1zM650 274h1v1h-1zM579 275h1v1h-1zM650 275h1v1h-1zM579 276h1v1h-1zM650 276h1v1h-1zM580 277h1v1h-1zM649 277h1v1h-1zM580 278h1v1h-1zM649 278h1v1h-1zM580 279h1v1h-1zM649 279h1v1h-1zM580 280h1v1h-1zM649 280h1v1h-1zM581 281h1v1h-1zM648 281h1v1h-1zM581 282h1v1h-1zM648 282h1v1h-1zM581 283h1v1h-1zM648 283h1v1h-1zM581 284h1v1h-1zM648 284h1v1h-1zM582 285h1v1h-1zM647 285h1v1h-1zM582 286h1v1h-1zM647 286h1v1h-1zM582 287h1v1h-1zM647 287h1v1h-1zM582 288h1v1h-1zM647 288h1v1h-1zM583 289h1v1h-1zM646 289h1v1h-1zM583 290h1v1h-1zM646 290h1v1h-1zM583 291h1v1h-1zM646 291h1v1h-1zM584 292h1v1h-1zM646 292h1v1h-1zM584 293h1v1h-1zM645 293h1v1h-1zM584 294h1v1h-1zM645 294h1v1h-1zM584 295h1v1h-1zM645 295h1v1h-1zM585 296h1v1h-1zM645 296h1v1h-1zM585 297h1v1h-1zM644 297h1v1h-1zM585 298h1v1h-1zM644 298h1v1h-1zM586 299h1v1h-1zM643 299h1v1h-1zM586 300h1v1h-1zM643 300h1v1h-1zM586 301h1v1h-1zM642 301h1v1h-1zM586 302h1v1h-1zM642 302h1v1h-1zM587 303h1v1h-1zM641 303h1v1h-1zM587 304h1v1h-1zM641 304h1v1h-1zM587 305h1v1h-1zM640 305h1v1h-1zM588 306h1v1h-1zM640 306h1v1h-1zM588 307h1v1h-1zM639 307h1v1h-1zM588 308h1v1h-1zM639 308h1v1h-1zM588 309h1v1h-1zM638 309h1v1h-1zM589 310h1v1h-1zM638 310h1v1h-1zM589 311h1v1h-1zM637 311h1v1h-1zM589 312h1v1h-1zM637 312h1v1h-1zM590 313h1v1h-1zM637 313h1v1h-1zM590 314h1v1h-1zM637 314h1v1h-1zM590 315h1v1h-1zM636 315h1v1h-1zM590 316h1v1h-1zM636 316h1v1h-1zM591 317h1v1h-1zM636 317h1v1h-1zM591 318h1v1h-1zM636 318h1v1h-1zM591 319h1v1h-1zM635 319h1v1h-1zM591 320h1v1h-1zM635 320h1v1h-1zM592 321h1v1h-1zM635 321h1v1h-1zM592 322h1v1h-1zM635 322h1v1h-1zM592 323h1v1h-1zM634 323h1v1h-1zM592 324h1v1h-1zM634 324h1v1h-1zM593 325h1v1h-1zM634 325h1v1h-1zM593 326h1v1h-1zM634 326h1v1h-1zM593 327h1v1h-1zM633 327h1v1h-1zM593 328h1v1h-1zM633 328h1v1h-1zM594 329h1v1h-1zM633 329h1v1h-1zM594 330h1v1h-1zM633 330h1v1h-1zM594 331h1v1h-1zM632 331h1v1h-1zM594 332h1v1h-1zM632 332h1v1h-1zM595 333h1v1h-1zM632 333h1v1h-1zM595 334h1v1h-1zM632 334h1v1h-1zM595 335h1v1h-1zM631 335h1v1h-1zM595 336h1v1h-1zM631 336h1v1h-1zM596 337h1v1h-1zM631 337h1v1h-1zM596 338h1v1h-1zM631 338h1v1h-1zM596 339h1v1h-1zM630 339h1v1h-1zM596 340h1v1h-1zM630 340h1v1h-1zM597 341h1v1h-1zM630 341h1v1h-1zM597 342h1v1h-1zM630 342h1v1h-1zM597 343h1v1h-1zM629 343h1v1h-1zM597 344h1v1h-1zM629 344h1v1h-1zM598 345h1v1h-1zM629 345h1v1h-1zM598 346h1v1h-1zM628 346h1v1h-1zM598 347h1v1h-1zM628 347h1v1h-1zM598 348h1v1h-1zM627 348h1v1h-1zM599 349h1v1h-1zM627 349h1v1h-1zM599 350h1v1h-1zM627 350h1v1h-1zM599 351h1v1h-1zM626 351h1v1h-1zM600 352h1v1h-1zM626 352h1v1h-1zM600 353h1v1h-1zM626 353h1v1h-1zM600 354h1v1h-1zM625 354h1v1h-1zM601 355h1v1h-1zM625 355h1v1h-1zM601 356h1v1h-1zM624 356h1v1h-1zM601 357h1v1h-1zM624 357h1v1h-1zM601 358h1v1h-1zM624 358h1v1h-1zM602 359h1v1h-1zM623 359h1v1h-1zM602 360h1v1h-1zM623 360h1v1h-1zM602 361h1v1h-1zM623 361h1v1h-1zM603 362h1v1h-1zM622 362h1v1h-1zM603 363h1v1h-1zM622 363h1v1h-1zM603 364h1v1h-1zM621 364h1v1h-1zM604 365h1v1h-1zM621 365h1v1h-1zM604 366h1v1h-1zM621 366h1v1h-1zM604 367h1v1h-1zM620 367h1v1h-1zM604 368h1v1h-1zM620 368h1v1h-1zM605 369h1v1h-1zM619 369h1v1h-1zM605 370h1v1h-1zM619 370h1v1h-1zM606 371h1v1h-1zM619 371h1v1h-1zM606 372h1v1h-1zM618 372h1v1h-1zM607 373h1v1h-1zM618 373h1v1h-1zM607 374h1v1h-1zM617 374h1v1h-1zM608 375h1v1h-1zM617 375h1v1h-1zM608 376h1v1h-1zM617 376h1v1h-1zM609 377h1v1h-1zM616 377h1v1h-1zM609 378h1v1h-1zM616 378h1v1h-1zM610 379h1v1h-1zM615 379h1v1h-1zM610 380h1v1h-1zM615 380h1v1h-1zM611 381h1v1h-1zM615 381h1v1h-1zM611 382h1v1h-1zM614 382h1v1h-1zM612 383h1v1h-1zM614 383h1v1h-1zM612 384h2v1h-2zM613 385h1v1h-1z" fill="#ffa500"/>
<rect x="5" y="45" width="1484" height="2" fill="#ff0000"/>
<rect x="5" y="106" width="1484" height="2" fill="#ff0000"/>
<rect x="5" y="180" width="1484" height="2" fill="#00ff00"/>
<rect x="5" y="251" width="1484" height="2" fill="#0000ff"/>
<rect x="5" y="327" width="1484" height="2" fill="#0000ff"/>
</g>
<g shape-rendering="crispEdges">
<rect x="4" y="24" width="1486" height="1" fill="#000"/>
<rect x="4" y="500" width="1486" height="1" fill="#000"/>
<rect x="4" y="24" width="1" height="477" fill="#000"/>
<rect x="1489" y="24" width="1" height="477" fill="#000"/>
<rect x="4" y="502" width="1486" height="1" fill="#000"/>
<rect x="4" y="589" width="1486" height="1" fill="#000"/>
<rect x="4" y="502" width="1" height="88" fill="#000"/>
<rect x="1489" y="502" width="1" height="88" fill="#000"/>
<rect x="4" y="591" width="1486" height="1" fill="#000"/>
<rect x="4" y="677" width="1486" height="1" fill="#000"/>
<rect x="4" y="591" width="1" height="87" fill="#000"/>
<rect x="1489" y="591" width="1" height="87" fill="#000"/>
<rect x="4" y="43" width="6" height="6" fill="#ff0000"/>
<rect x="6" y="45" width="2" height="2" fill="#ffffff"/>
<rect x="1483" y="43" width="6" height="6" fill="#ff0000"/>
<rect x="1485" y="45" width="2" height="2" fill="#ffffff"/>
<rect x="4" y="104" width="6" height="6" fill="#ff0000"/>
<rect x="6" y="106" width="2" height="2" fill="#ffffff"/>
<rect x="1483" y="104" width="6" height="6" fill="#ff0000"/>
<rect x="1485" y="106" width="2" height="2" fill="#ffffff"/>
<rect x="4" y="178" width="6" height="6" fill="#00ff00"/>
<rect x="6" y="180" width="2" height="2" fill="#ffffff"/>
<rect x="1483" y="178" width="6" height="6" fill="#00ff00"/>
<rect x="1485" y="180" width="2" height="2" fill="#ffffff"/>
<rect x="4" y="249" width="6" height="6" fill="#0000ff"/>
<rect x="6" y="251" width="2" height="2" fill="#ffffff"/>
<rect x="1483" y="249" width="6" height="6" fill="#0000ff"/>
<rect x="1485" y="251" width="2" height="2" fill="#ffffff"/>
<rect x="4" y="325" width="6" height="6" fill="#0000ff"/>
<rect x="6" y="327" width="2" height="2" fill="#ffffff"/>
<rect x="1483" y="325" width="6" height="6" fill="#0000ff"/>
<rect x="1485" y="327" width="2" height="2" fill="#ffffff"/>
</g>
<polygon points="1185.5,25 1195.5,25 1190.5,30" fill="#c0c0c0"/>
<polygon points="8,31 15,31 11.5,35" fill="#000"/>
<text x="19.76" y="36" font-size="9.6" fill="#000" stroke="#000" stroke-width="0.12" textLength="64.65" lengthAdjust="spacingAndGlyphs" text-rendering="geometricPrecision">USDCHF,Daily</text>
<text x="91.14" y="36" font-size="9.6" fill="#000" stroke="#000" stroke-width="0.12" textLength="32.83" lengthAdjust="spacingAndGlyphs" text-rendering="geometricPrecision">0.96066</text>
<text x="127.14" y="36" font-size="9.6" fill="#000" stroke="#000" stroke-width="0.12" textLength="32.42" lengthAdjust="spacingAndGlyphs" text-rendering="geometricPrecision">0.96096</text>
<text x="162.74" y="36" font-size="9.6" fill="#000" stroke="#000" stroke-width="0.12" textLength="32.88" lengthAdjust="spacingAndGlyphs" text-rendering="geometricPrecision">0.95990</text>
<text x="198.43" y="36" font-size="9.6" fill="#000" stroke="#000" stroke-width="0.12" textLength="33.43" lengthAdjust="spacingAndGlyphs" text-rendering="geometricPrecision">0.96032</text>
<rect x="1490" y="35" width="2" height="1" fill="#000"/>
<text x="1494.63" y="39" font-size="9.6" fill="#000" stroke="#000" stroke-width="0.12" textLength="33.29" lengthAdjust="spacingAndGlyphs" text-rendering="geometricPrecision">0.99190</text>
<rect x="1490" y="68" width="2" height="1" fill="#000"/>
<text x="1494.63" y="72" font-size="9.6" fill="#000" stroke="#000" stroke-width="0.12" textLength="33.29" lengthAdjust="spacingAndGlyphs" text-rendering="geometricPrecision">0.98650</text>
<rect x="1490" y="101" width="2" height="1" fill="#000"/>
<text x="1494.62" y="105" font-size="9.6" fill="#000" stroke="#000" stroke-width="0.12" textLength="33.31" lengthAdjust="spacingAndGlyphs" text-rendering="geometricPrecision">0.98110</text>
<rect x="1490" y="134" width="2" height="1" fill="#000"/>
<text x="1494.63" y="138" font-size="9.6" fill="#000" stroke="#000" stroke-width="0.12" textLength="33.29" lengthAdjust="spacingAndGlyphs" text-rendering="geometricPrecision">0.97570</text>
<rect x="1490" y="167" width="2" height="1" fill="#000"/>
<text x="1494.63" y="171" font-size="9.6" fill="#000" stroke="#000" stroke-width="0.12" textLength="33.34" lengthAdjust="spacingAndGlyphs" text-rendering="geometricPrecision">0.97045</text>
<rect x="1490" y="200" width="2" height="1" fill="#000"/>
<text x="1494.63" y="204" font-size="9.6" fill="#000" stroke="#000" stroke-width="0.12" textLength="33.34" lengthAdjust="spacingAndGlyphs" text-rendering="geometricPrecision">0.96505</text>
<rect x="1490" y="233" width="2" height="1" fill="#000"/>
<text x="1494.63" y="237" font-size="9.6" fill="#000" stroke="#000" stroke-width="0.12" textLength="33.34" lengthAdjust="spacingAndGlyphs" text-rendering="geometricPrecision">0.95965</text>
<rect x="1490" y="266" width="2" height="1" fill="#000"/>
<text x="1494.63" y="270" font-size="9.6" fill="#000" stroke="#000" stroke-width="0.12" textLength="33.34" lengthAdjust="spacingAndGlyphs" text-rendering="geometricPrecision">0.95425</text>
<rect x="1490" y="299" width="2" height="1" fill="#000"/>
<text x="1494.63" y="303" font-size="9.6" fill="#000" stroke="#000" stroke-width="0.12" textLength="33.34" lengthAdjust="spacingAndGlyphs" text-rendering="geometricPrecision">0.94885</text>
<rect x="1490" y="332" width="2" height="1" fill="#000"/>
<text x="1494.63" y="336" font-size="9.6" fill="#000" stroke="#000" stroke-width="0.12" textLength="33.29" lengthAdjust="spacingAndGlyphs" text-rendering="geometricPrecision">0.94360</text>
<rect x="1490" y="365" width="2" height="1" fill="#000"/>
<text x="1494.63" y="369" font-size="9.6" fill="#000" stroke="#000" stroke-width="0.12" textLength="33.29" lengthAdjust="spacingAndGlyphs" text-rendering="geometricPrecision">0.93820</text>
<rect x="1490" y="398" width="2" height="1" fill="#000"/>
<text x="1494.63" y="402" font-size="9.6" fill="#000" stroke="#000" stroke-width="0.12" textLength="33.29" lengthAdjust="spacingAndGlyphs" text-rendering="geometricPrecision">0.93280</text>
<rect x="1490" y="431" width="2" height="1" fill="#000"/>
<text x="1494.63" y="435" font-size="9.6" fill="#000" stroke="#000" stroke-width="0.12" textLength="33.29" lengthAdjust="spacingAndGlyphs" text-rendering="geometricPrecision">0.92740</text>
<rect x="1490" y="464" width="2" height="1" fill="#000"/>
<text x="1494.63" y="468" font-size="9.6" fill="#000" stroke="#000" stroke-width="0.12" textLength="33.29" lengthAdjust="spacingAndGlyphs" text-rendering="geometricPrecision">0.92200</text>
<rect x="1490" y="497" width="2" height="1" fill="#000"/>
<text x="1494.63" y="501" font-size="9.6" fill="#000" stroke="#000" stroke-width="0.12" textLength="33.34" lengthAdjust="spacingAndGlyphs" text-rendering="geometricPrecision">0.91675</text>
<rect x="1491" y="40" width="39" height="11" fill="#ff0000"/>
<text x="1494.63" y="49" font-size="9.6" fill="#fff" stroke="#fff" stroke-width="0.12" textLength="33.43" lengthAdjust="spacingAndGlyphs" text-rendering="geometricPrecision">0.99007</text>
<rect x="1491" y="101" width="39" height="11" fill="#ff0000"/>
<text x="1494.63" y="110" font-size="9.6" fill="#fff" stroke="#fff" stroke-width="0.12" textLength="33.29" lengthAdjust="spacingAndGlyphs" text-rendering="geometricPrecision">0.98010</text>
<rect x="1491" y="175" width="39" height="11" fill="#00ff00"/>
<text x="1494.63" y="184" font-size="9.6" fill="#fff" stroke="#fff" stroke-width="0.12" textLength="33.34" lengthAdjust="spacingAndGlyphs" text-rendering="geometricPrecision">0.96803</text>
<rect x="1491" y="224" width="39" height="11" fill="#000000"/>
<text x="1494.63" y="233" font-size="9.6" fill="#fff" stroke="#fff" stroke-width="0.12" textLength="33.43" lengthAdjust="spacingAndGlyphs" text-rendering="geometricPrecision">0.96032</text>
<rect x="1491" y="246" width="39" height="11" fill="#0000ff"/>
<text x="1494.63" y="255" font-size="9.6" fill="#fff" stroke="#fff" stroke-width="0.12" textLength="33.34" lengthAdjust="spacingAndGlyphs" text-rendering="geometricPrecision">0.95658</text>
<rect x="1491" y="322" width="39" height="11" fill="#0000ff"/>
<text x="1494.63" y="331" font-size="9.6" fill="#fff" stroke="#fff" stroke-width="0.12" textLength="33.24" lengthAdjust="spacingAndGlyphs" text-rendering="geometricPrecision">0.94414</text>
<g shape-rendering="crispEdges">
<line x1="6" y1="529.5" x2="1489" y2="529.5" stroke="#c0c0c0" stroke-dasharray="3,3"/>
<line x1="6" y1="563.5" x2="1489" y2="563.5" stroke="#c0c0c0" stroke-dasharray="3,3"/>
</g>
<g clip-path="url(#cr)" shape-rendering="crispEdges">
<path d="M468 530h3v1h-3zM465 531h3v1h-3zM471 531h2v1h-2zM443 532h6v1h-6zM463 532h2v1h-2zM473 532h3v1h-3zM681 532h5v1h-5zM439 533h4v1h-4zM449 533h14v1h-14zM476 533h2v1h-2zM673 533h8v1h-8zM686 533h2v1h-2zM436 534h3v1h-3zM478 534h1v1h-1zM668 534h5v1h-5zM688 534h2v1h-2zM433 535h3v1h-3zM479 535h1v1h-1zM665 535h3v1h-3zM690 535h2v1h-2zM431 536h2v1h-2zM480 536h1v1h-1zM663 536h2v1h-2zM692 536h5v1h-5zM428 537h3v1h-3zM481 537h1v1h-1zM661 537h2v1h-2zM697 537h6v1h-6zM425 538h3v1h-3zM482 538h1v1h-1zM659 538h2v1h-2zM703 538h4v1h-4zM385 539h32v1h-32zM423 539h2v1h-2zM483 539h1v1h-1zM657 539h2v1h-2zM707 539h3v1h-3zM772 539h3v1h-3zM915 539h20v1h-20zM380 540h5v1h-5zM417 540h6v1h-6zM484 540h1v1h-1zM656 540h1v1h-1zM710 540h1v1h-1zM770 540h2v1h-2zM775 540h4v1h-4zM911 540h4v1h-4zM935 540h4v1h-4zM323 541h3v1h-3zM377 541h3v1h-3zM485 541h2v1h-2zM654 541h2v1h-2zM711 541h1v1h-1zM768 541h2v1h-2zM779 541h12v1h-12zM907 541h4v1h-4zM939 541h11v1h-11zM996 541h10v1h-10zM319 542h4v1h-4zM326 542h1v1h-1zM375 542h2v1h-2zM487 542h4v1h-4zM653 542h1v1h-1zM712 542h1v1h-1zM766 542h2v1h-2zM791 542h2v1h-2zM903 542h4v1h-4zM950 542h1v1h-1zM993 542h3v1h-3zM1006 542h2v1h-2zM317 543h2v1h-2zM327 543h1v1h-1zM372 543h3v1h-3zM491 543h12v1h-12zM652 543h1v1h-1zM713 543h1v1h-1zM763 543h3v1h-3zM793 543h3v1h-3zM899 543h4v1h-4zM951 543h1v1h-1zM991 543h2v1h-2zM1008 543h1v1h-1zM1051 543h12v1h-12zM316 544h1v1h-1zM327 544h1v1h-1zM370 544h2v1h-2zM503 544h2v1h-2zM652 544h1v1h-1zM713 544h1v1h-1zM759 544h4v1h-4zM796 544h10v1h-10zM860 544h3v1h-3zM895 544h4v1h-4zM952 544h1v1h-1zM989 544h2v1h-2zM1009 544h2v1h-2zM1025 544h5v1h-5zM1047 544h4v1h-4zM1063 544h4v1h-4zM1083 544h3v1h-3zM315 545h1v1h-1zM328 545h1v1h-1zM368 545h2v1h-2zM505 545h3v1h-3zM651 545h1v1h-1zM714 545h1v1h-1zM755 545h4v1h-4zM806 545h2v1h-2zM858 545h2v1h-2zM863 545h2v1h-2zM889 545h6v1h-6zM953 545h1v1h-1zM987 545h2v1h-2zM1011 545h2v1h-2zM1017 545h8v1h-8zM1030 545h2v1h-2zM1044 545h3v1h-3zM1067 545h6v1h-6zM1079 545h4v1h-4zM1086 545h1v1h-1zM1107 545h12v1h-12zM313 546h2v1h-2zM329 546h1v1h-1zM366 546h2v1h-2zM508 546h10v1h-10zM650 546h1v1h-1zM715 546h1v1h-1zM751 546h4v1h-4zM808 546h2v1h-2zM856 546h2v1h-2zM865 546h3v1h-3zM873 546h16v1h-16zM954 546h1v1h-1zM986 546h1v1h-1zM1013 546h4v1h-4zM1032 546h2v1h-2zM1041 546h3v1h-3zM1073 546h6v1h-6zM1087 546h1v1h-1zM1103 546h4v1h-4zM1119 546h4v1h-4zM312 547h1v1h-1zM330 547h1v1h-1zM365 547h1v1h-1zM518 547h1v1h-1zM649 547h1v1h-1zM716 547h1v1h-1zM747 547h4v1h-4zM810 547h2v1h-2zM833 547h5v1h-5zM854 547h2v1h-2zM868 547h5v1h-5zM955 547h1v1h-1zM985 547h1v1h-1zM1034 547h2v1h-2zM1039 547h2v1h-2zM1088 547h1v1h-1zM1101 547h2v1h-2zM1123 547h4v1h-4zM292 548h11v1h-11zM311 548h1v1h-1zM331 548h1v1h-1zM363 548h2v1h-2zM519 548h1v1h-1zM635 548h3v1h-3zM649 548h1v1h-1zM717 548h2v1h-2zM743 548h4v1h-4zM812 548h21v1h-21zM838 548h2v1h-2zM852 548h2v1h-2zM956 548h1v1h-1zM983 548h2v1h-2zM1036 548h3v1h-3zM1089 548h1v1h-1zM1099 548h2v1h-2zM1127 548h2v1h-2zM1139 548h3v1h-3zM290 549h2v1h-2zM303 549h4v1h-4zM310 549h1v1h-1zM331 549h1v1h-1zM361 549h2v1h-2zM519 549h1v1h-1zM631 549h4v1h-4zM638 549h2v1h-2zM648 549h1v1h-1zM719 549h2v1h-2zM740 549h3v1h-3zM840 549h2v1h-2zM849 549h3v1h-3zM957 549h1v1h-1zM982 549h1v1h-1zM1090 549h1v1h-1zM1097 549h2v1h-2zM1129 549h3v1h-3zM1135 549h4v1h-4zM1142 549h2v1h-2zM276 550h3v1h-3zM288 550h2v1h-2zM307 550h3v1h-3zM332 550h1v1h-1zM360 550h1v1h-1zM520 550h1v1h-1zM625 550h6v1h-6zM640 550h1v1h-1zM647 550h1v1h-1zM721 550h3v1h-3zM738 550h2v1h-2zM842 550h2v1h-2zM847 550h2v1h-2zM958 550h1v1h-1zM980 550h2v1h-2zM1091 550h1v1h-1zM1096 550h1v1h-1zM1132 550h3v1h-3zM1144 550h2v1h-2zM195 551h6v1h-6zM274 551h2v1h-2zM279 551h4v1h-4zM286 551h2v1h-2zM333 551h1v1h-1zM358 551h2v1h-2zM521 551h1v1h-1zM621 551h4v1h-4zM641 551h2v1h-2zM646 551h1v1h-1zM724 551h3v1h-3zM736 551h2v1h-2zM844 551h3v1h-3zM959 551h2v1h-2zM977 551h3v1h-3zM1092 551h1v1h-1zM1094 551h2v1h-2zM1146 551h2v1h-2zM191 552h4v1h-4zM201 552h6v1h-6zM272 552h2v1h-2zM283 552h3v1h-3zM334 552h2v1h-2zM357 552h1v1h-1zM522 552h1v1h-1zM621 552h1v1h-1zM643 552h2v1h-2zM646 552h1v1h-1zM727 552h4v1h-4zM734 552h2v1h-2zM961 552h1v1h-1zM975 552h2v1h-2zM1093 552h1v1h-1zM1148 552h3v1h-3zM59 553h6v1h-6zM188 553h3v1h-3zM207 553h2v1h-2zM259 553h6v1h-6zM270 553h2v1h-2zM336 553h1v1h-1zM355 553h2v1h-2zM523 553h1v1h-1zM620 553h1v1h-1zM645 553h1v1h-1zM731 553h3v1h-3zM962 553h1v1h-1zM971 553h4v1h-4zM1151 553h4v1h-4zM55 554h4v1h-4zM65 554h6v1h-6zM92 554h2v1h-2zM186 554h2v1h-2zM209 554h3v1h-3zM255 554h4v1h-4zM265 554h5v1h-5zM337 554h2v1h-2zM353 554h2v1h-2zM523 554h1v1h-1zM620 554h1v1h-1zM963 554h2v1h-2zM967 554h4v1h-4zM1155 554h6v1h-6zM53 555h2v1h-2zM71 555h4v1h-4zM89 555h3v1h-3zM94 555h1v1h-1zM184 555h2v1h-2zM212 555h3v1h-3zM249 555h6v1h-6zM339 555h2v1h-2zM352 555h1v1h-1zM524 555h1v1h-1zM619 555h1v1h-1zM965 555h2v1h-2zM1161 555h13v1h-13zM12 556h3v1h-3zM51 556h2v1h-2zM75 556h6v1h-6zM87 556h2v1h-2zM95 556h2v1h-2zM173 556h4v1h-4zM182 556h2v1h-2zM215 556h2v1h-2zM245 556h4v1h-4zM341 556h4v1h-4zM350 556h2v1h-2zM525 556h2v1h-2zM619 556h1v1h-1zM10 557h2v1h-2zM15 557h4v1h-4zM50 557h1v1h-1zM81 557h6v1h-6zM97 557h1v1h-1zM156 557h2v1h-2zM171 557h2v1h-2zM177 557h5v1h-5zM217 557h3v1h-3zM243 557h2v1h-2zM345 557h5v1h-5zM527 557h2v1h-2zM618 557h1v1h-1zM8 558h2v1h-2zM19 558h4v1h-4zM36 558h3v1h-3zM49 558h1v1h-1zM98 558h1v1h-1zM154 558h2v1h-2zM158 558h2v1h-2zM169 558h2v1h-2zM220 558h2v1h-2zM242 558h1v1h-1zM529 558h3v1h-3zM618 558h1v1h-1zM6 559h2v1h-2zM23 559h2v1h-2zM33 559h3v1h-3zM39 559h2v1h-2zM47 559h2v1h-2zM99 559h2v1h-2zM152 559h2v1h-2zM160 559h2v1h-2zM168 559h1v1h-1zM222 559h2v1h-2zM241 559h1v1h-1zM532 559h2v1h-2zM617 559h1v1h-1zM5 560h1v1h-1zM25 560h3v1h-3zM31 560h2v1h-2zM41 560h3v1h-3zM46 560h1v1h-1zM101 560h2v1h-2zM150 560h2v1h-2zM162 560h2v1h-2zM166 560h2v1h-2zM224 560h2v1h-2zM239 560h2v1h-2zM534 560h2v1h-2zM617 560h1v1h-1zM28 561h3v1h-3zM44 561h2v1h-2zM103 561h2v1h-2zM148 561h2v1h-2zM164 561h2v1h-2zM226 561h2v1h-2zM238 561h1v1h-1zM536 561h2v1h-2zM616 561h1v1h-1zM105 562h3v1h-3zM145 562h3v1h-3zM228 562h10v1h-10zM538 562h2v1h-2zM616 562h1v1h-1zM108 563h3v1h-3zM143 563h2v1h-2zM540 563h2v1h-2zM615 563h1v1h-1zM111 564h2v1h-2zM140 564h3v1h-3zM542 564h2v1h-2zM615 564h1v1h-1zM113 565h3v1h-3zM137 565h3v1h-3zM544 565h2v1h-2zM614 565h1v1h-1zM116 566h13v1h-13zM135 566h2v1h-2zM546 566h2v1h-2zM614 566h1v1h-1zM129 567h6v1h-6zM548 567h3v1h-3zM613 567h1v1h-1zM551 568h2v1h-2zM612 568h1v1h-1zM553 569h3v1h-3zM611 569h1v1h-1zM556 570h5v1h-5zM610 570h1v1h-1zM561 571h6v1h-6zM609 571h1v1h-1zM567 572h4v1h-4zM608 572h1v1h-1zM571 573h3v1h-3zM607 573h1v1h-1zM574 574h2v1h-2zM606 574h1v1h-1zM576 575h2v1h-2zM604 575h2v1h-2zM578 576h2v1h-2zM602 576h2v1h-2zM580 577h5v1h-5zM600 577h2v1h-2zM585 578h8v1h-8zM598 578h2v1h-2zM593 579h5v1h-5z" fill="#1e90ff"/>
</g>
<text x="8.65" y="515" font-size="9.6" fill="#000" stroke="#000" stroke-width="0.12" textLength="32.26" lengthAdjust="spacingAndGlyphs" text-rendering="geometricPrecision">RSI(14)</text>
<text x="43.73" y="515" font-size="9.6" fill="#000" stroke="#000" stroke-width="0.12" textLength="33.18" lengthAdjust="spacingAndGlyphs" text-rendering="geometricPrecision">38.8499</text>
<rect x="1490" y="504" width="1" height="1" fill="#000"/>
<rect x="1490" y="588" width="1" height="1" fill="#000"/>
<text x="1492.82" y="513" font-size="9.6" fill="#000" stroke="#000" stroke-width="0.12" textLength="15.24" lengthAdjust="spacingAndGlyphs" text-rendering="geometricPrecision">100</text>
<text x="1491.61" y="533" font-size="9.6" fill="#000" stroke="#000" stroke-width="0.12" textLength="10.85" lengthAdjust="spacingAndGlyphs" text-rendering="geometricPrecision">70</text>
<text x="1491.84" y="567" font-size="9.6" fill="#000" stroke="#000" stroke-width="0.12" textLength="10.10" lengthAdjust="spacingAndGlyphs" text-rendering="geometricPrecision">30</text>
<text x="1492.44" y="586" font-size="9.6" fill="#000" stroke="#000" stroke-width="0.12" textLength="5.07" lengthAdjust="spacingAndGlyphs" text-rendering="geometricPrecision">0</text>
<g clip-path="url(#cd)" shape-rendering="crispEdges">
<rect x="5" y="621" width="1" height="9" fill="#c0c0c0"/>
<rect x="13" y="621" width="1" height="10" fill="#c0c0c0"/>
<rect x="21" y="621" width="1" height="11" fill="#c0c0c0"/>
<rect x="29" y="621" width="1" height="12" fill="#c0c0c0"/>
<rect x="37" y="621" width="1" height="14" fill="#c0c0c0"/>
<rect x="45" y="621" width="1" height="16" fill="#c0c0c0"/>
<rect x="53" y="621" width="1" height="14" fill="#c0c0c0"/>
<rect x="61" y="621" width="1" height="14" fill="#c0c0c0"/>
<rect x="69" y="621" width="1" height="13" fill="#c0c0c0"/>
<rect x="77" y="621" width="1" height="15" fill="#c0c0c0"/>
<rect x="85" y="621" width="1" height="16" fill="#c0c0c0"/>
<rect x="93" y="621" width="1" height="18" fill="#c0c0c0"/>
<rect x="101" y="621" width="1" height="19" fill="#c0c0c0"/>
<rect x="109" y="621" width="1" height="19" fill="#c0c0c0"/>
<rect x="117" y="621" width="1" height="20" fill="#c0c0c0"/>
<rect x="125" y="621" width="1" height="23" fill="#c0c0c0"/>
<rect x="133" y="621" width="1" height="24" fill="#c0c0c0"/>
<rect x="141" y="621" width="1" height="25" fill="#c0c0c0"/>
<rect x="149" y="621" width="1" height="24" fill="#c0c0c0"/>
<rect x="157" y="621" width="1" height="22" fill="#c0c0c0"/>
<rect x="165" y="621" width="1" height="22" fill="#c0c0c0"/>
<rect x="173" y="621" width="1" height="21" fill="#c0c0c0"/>
<rect x="181" y="621" width="1" height="20" fill="#c0c0c0"/>
<rect x="189" y="621" width="1" height="19" fill="#c0c0c0"/>
<rect x="197" y="621" width="1" height="18" fill="#c0c0c0"/>
<rect x="205" y="621" width="1" height="17" fill="#c0c0c0"/>
<rect x="213" y="621" width="1" height="16" fill="#c0c0c0"/>
<rect x="221" y="621" width="1" height="17" fill="#c0c0c0"/>
<rect x="229" y="621" width="1" height="18" fill="#c0c0c0"/>
<rect x="237" y="621" width="1" height="18" fill="#c0c0c0"/>
<rect x="245" y="621" width="1" height="19" fill="#c0c0c0"/>
<rect x="253" y="621" width="1" height="16" fill="#c0c0c0"/>
<rect x="261" y="621" width="1" height="16" fill="#c0c0c0"/>
<rect x="269" y="621" width="1" height="15" fill="#c0c0c0"/>
<rect x="277" y="621" width="1" height="12" fill="#c0c0c0"/>
<rect x="285" y="621" width="1" height="10" fill="#c0c0c0"/>
<rect x="293" y="621" width="1" height="11" fill="#c0c0c0"/>
<rect x="301" y="621" width="1" height="10" fill="#c0c0c0"/>
<rect x="309" y="621" width="1" height="9" fill="#c0c0c0"/>
<rect x="317" y="621" width="1" height="7" fill="#c0c0c0"/>
<rect x="325" y="621" width="1" height="4" fill="#c0c0c0"/>
<rect x="333" y="621" width="1" height="5" fill="#c0c0c0"/>
<rect x="341" y="621" width="1" height="5" fill="#c0c0c0"/>
<rect x="349" y="621" width="1" height="4" fill="#c0c0c0"/>
<rect x="357" y="621" width="1" height="3" fill="#c0c0c0"/>
<rect x="365" y="621" width="1" height="2" fill="#c0c0c0"/>
<rect x="373" y="621" width="1" height="1" fill="#c0c0c0"/>
<rect x="389" y="620" width="1" height="1" fill="#c0c0c0"/>
<rect x="397" y="620" width="1" height="1" fill="#c0c0c0"/>
<rect x="405" y="618" width="1" height="3" fill="#c0c0c0"/>
<rect x="413" y="617" width="1" height="4" fill="#c0c0c0"/>
<rect x="421" y="616" width="1" height="5" fill="#c0c0c0"/>
<rect x="429" y="614" width="1" height="7" fill="#c0c0c0"/>
<rect x="437" y="612" width="1" height="9" fill="#c0c0c0"/>
<rect x="445" y="611" width="1" height="10" fill="#c0c0c0"/>
<rect x="453" y="609" width="1" height="12" fill="#c0c0c0"/>
<rect x="461" y="609" width="1" height="12" fill="#c0c0c0"/>
<rect x="469" y="608" width="1" height="13" fill="#c0c0c0"/>
<rect x="477" y="607" width="1" height="14" fill="#c0c0c0"/>
<rect x="485" y="609" width="1" height="12" fill="#c0c0c0"/>
<rect x="493" y="609" width="1" height="12" fill="#c0c0c0"/>
<rect x="501" y="611" width="1" height="10" fill="#c0c0c0"/>
<rect x="509" y="613" width="1" height="8" fill="#c0c0c0"/>
<rect x="517" y="614" width="1" height="7" fill="#c0c0c0"/>
<rect x="525" y="618" width="1" height="3" fill="#c0c0c0"/>
<rect x="541" y="621" width="1" height="4" fill="#c0c0c0"/>
<rect x="549" y="621" width="1" height="9" fill="#c0c0c0"/>
<rect x="557" y="621" width="1" height="14" fill="#c0c0c0"/>
<rect x="565" y="621" width="1" height="19" fill="#c0c0c0"/>
<rect x="573" y="621" width="1" height="23" fill="#c0c0c0"/>
<rect x="581" y="621" width="1" height="33" fill="#c0c0c0"/>
<rect x="589" y="621" width="1" height="39" fill="#c0c0c0"/>
<rect x="597" y="621" width="1" height="46" fill="#c0c0c0"/>
<rect x="605" y="621" width="1" height="51" fill="#c0c0c0"/>
<rect x="613" y="621" width="1" height="52" fill="#c0c0c0"/>
<rect x="621" y="621" width="1" height="45" fill="#c0c0c0"/>
<rect x="629" y="621" width="1" height="39" fill="#c0c0c0"/>
<rect x="637" y="621" width="1" height="35" fill="#c0c0c0"/>
<rect x="645" y="621" width="1" height="33" fill="#c0c0c0"/>
<rect x="653" y="621" width="1" height="25" fill="#c0c0c0"/>
<rect x="661" y="621" width="1" height="16" fill="#c0c0c0"/>
<rect x="669" y="621" width="1" height="2" fill="#c0c0c0"/>
<rect x="677" y="614" width="1" height="7" fill="#c0c0c0"/>
<rect x="685" y="605" width="1" height="16" fill="#c0c0c0"/>
<rect x="693" y="601" width="1" height="20" fill="#c0c0c0"/>
<rect x="701" y="598" width="1" height="23" fill="#c0c0c0"/>
<rect x="709" y="597" width="1" height="24" fill="#c0c0c0"/>
<rect x="717" y="602" width="1" height="19" fill="#c0c0c0"/>
<rect x="725" y="611" width="1" height="10" fill="#c0c0c0"/>
<rect x="733" y="617" width="1" height="4" fill="#c0c0c0"/>
<rect x="741" y="620" width="1" height="1" fill="#c0c0c0"/>
<rect x="757" y="620" width="1" height="1" fill="#c0c0c0"/>
<rect x="765" y="617" width="1" height="4" fill="#c0c0c0"/>
<rect x="773" y="614" width="1" height="7" fill="#c0c0c0"/>
<rect x="781" y="614" width="1" height="7" fill="#c0c0c0"/>
<rect x="789" y="609" width="1" height="12" fill="#c0c0c0"/>
<rect x="797" y="610" width="1" height="11" fill="#c0c0c0"/>
<rect x="805" y="611" width="1" height="10" fill="#c0c0c0"/>
<rect x="813" y="613" width="1" height="8" fill="#c0c0c0"/>
<rect x="821" y="616" width="1" height="5" fill="#c0c0c0"/>
<rect x="829" y="618" width="1" height="3" fill="#c0c0c0"/>
<rect x="837" y="620" width="1" height="1" fill="#c0c0c0"/>
<rect x="853" y="621" width="1" height="1" fill="#c0c0c0"/>
<rect x="901" y="620" width="1" height="1" fill="#c0c0c0"/>
<rect x="909" y="618" width="1" height="3" fill="#c0c0c0"/>
<rect x="917" y="616" width="1" height="5" fill="#c0c0c0"/>
<rect x="925" y="614" width="1" height="7" fill="#c0c0c0"/>
<rect x="933" y="613" width="1" height="8" fill="#c0c0c0"/>
<rect x="941" y="612" width="1" height="9" fill="#c0c0c0"/>
<rect x="949" y="613" width="1" height="8" fill="#c0c0c0"/>
<rect x="957" y="614" width="1" height="7" fill="#c0c0c0"/>
<rect x="973" y="621" width="1" height="1" fill="#c0c0c0"/>
<rect x="981" y="621" width="1" height="2" fill="#c0c0c0"/>
<rect x="997" y="620" width="1" height="1" fill="#c0c0c0"/>
<rect x="1005" y="618" width="1" height="3" fill="#c0c0c0"/>
<rect x="1013" y="618" width="1" height="3" fill="#c0c0c0"/>
<rect x="1021" y="618" width="1" height="3" fill="#c0c0c0"/>
<rect x="1029" y="618" width="1" height="3" fill="#c0c0c0"/>
<rect x="1037" y="619" width="1" height="2" fill="#c0c0c0"/>
<rect x="1045" y="619" width="1" height="2" fill="#c0c0c0"/>
<rect x="1053" y="619" width="1" height="2" fill="#c0c0c0"/>
<rect x="1061" y="618" width="1" height="3" fill="#c0c0c0"/>
<rect x="1069" y="617" width="1" height="4" fill="#c0c0c0"/>
<rect x="1077" y="618" width="1" height="3" fill="#c0c0c0"/>
<rect x="1085" y="619" width="1" height="2" fill="#c0c0c0"/>
<rect x="1093" y="620" width="1" height="1" fill="#c0c0c0"/>
<rect x="1101" y="620" width="1" height="1" fill="#c0c0c0"/>
<rect x="1109" y="620" width="1" height="1" fill="#c0c0c0"/>
<rect x="1117" y="620" width="1" height="1" fill="#c0c0c0"/>
<rect x="1125" y="620" width="1" height="1" fill="#c0c0c0"/>
<rect x="1133" y="620" width="1" height="1" fill="#c0c0c0"/>
<rect x="1149" y="621" width="1" height="1" fill="#c0c0c0"/>
<rect x="1157" y="621" width="1" height="6" fill="#c0c0c0"/>
<rect x="1165" y="621" width="1" height="7" fill="#c0c0c0"/>
<rect x="1173" y="621" width="1" height="9" fill="#c0c0c0"/>
<path d="M732 607h2v1h-2zM737 607h3v1h-3zM743 607h2v1h-2zM731 608h1v1h-1zM745 608h1v1h-1zM749 608h2v1h-2zM491 609h3v1h-3zM497 609h3v1h-3zM503 609h3v1h-3zM509 609h3v1h-3zM515 609h3v1h-3zM727 609h1v1h-1zM751 609h1v1h-1zM481 610h1v1h-1zM485 610h3v1h-3zM521 610h2v1h-2zM725 610h2v1h-2zM755 610h3v1h-3zM473 611h3v1h-3zM479 611h2v1h-2zM523 611h1v1h-1zM527 611h2v1h-2zM761 611h3v1h-3zM467 612h3v1h-3zM529 612h1v1h-1zM533 612h2v1h-2zM721 612h1v1h-1zM767 612h3v1h-3zM827 612h3v1h-3zM833 612h3v1h-3zM839 612h2v1h-2zM457 613h1v1h-1zM461 613h3v1h-3zM535 613h1v1h-1zM720 613h1v1h-1zM773 613h3v1h-3zM809 613h3v1h-3zM815 613h3v1h-3zM821 613h3v1h-3zM841 613h1v1h-1zM845 613h2v1h-2zM455 614h2v1h-2zM539 614h3v1h-3zM719 614h1v1h-1zM779 614h3v1h-3zM785 614h3v1h-3zM791 614h3v1h-3zM797 614h3v1h-3zM803 614h3v1h-3zM847 614h1v1h-1zM449 615h3v1h-3zM851 615h3v1h-3zM947 615h3v1h-3zM953 615h3v1h-3zM959 615h3v1h-3zM965 615h3v1h-3zM971 615h3v1h-3zM977 615h3v1h-3zM983 615h2v1h-2zM545 616h3v1h-3zM715 616h1v1h-1zM857 616h3v1h-3zM863 616h2v1h-2zM943 616h1v1h-1zM985 616h1v1h-1zM989 616h3v1h-3zM443 617h3v1h-3zM713 617h2v1h-2zM865 617h1v1h-1zM869 617h2v1h-2zM937 617h1v1h-1zM941 617h2v1h-2zM995 617h3v1h-3zM439 618h1v1h-1zM551 618h2v1h-2zM871 618h1v1h-1zM929 618h3v1h-3zM935 618h2v1h-2zM1001 618h3v1h-3zM1007 618h2v1h-2zM1057 618h1v1h-1zM1061 618h3v1h-3zM1067 618h3v1h-3zM1073 618h3v1h-3zM1079 618h2v1h-2zM437 619h2v1h-2zM553 619h1v1h-1zM875 619h3v1h-3zM923 619h3v1h-3zM1009 619h1v1h-1zM1013 619h3v1h-3zM1019 619h3v1h-3zM1033 619h1v1h-1zM1037 619h3v1h-3zM1043 619h3v1h-3zM1049 619h3v1h-3zM1055 619h2v1h-2zM1081 619h1v1h-1zM1085 619h3v1h-3zM1091 619h3v1h-3zM1097 619h3v1h-3zM1103 619h3v1h-3zM1109 619h3v1h-3zM1115 619h3v1h-3zM1121 619h3v1h-3zM1127 619h3v1h-3zM1133 619h3v1h-3zM431 620h3v1h-3zM557 620h2v1h-2zM709 620h1v1h-1zM881 620h3v1h-3zM887 620h3v1h-3zM893 620h3v1h-3zM899 620h3v1h-3zM905 620h3v1h-3zM911 620h3v1h-3zM917 620h3v1h-3zM1025 620h3v1h-3zM1031 620h2v1h-2zM1139 620h3v1h-3zM425 621h3v1h-3zM559 621h1v1h-1zM707 621h2v1h-2zM1145 621h3v1h-3zM1151 621h3v1h-3zM1157 621h3v1h-3zM419 622h3v1h-3zM563 622h1v1h-1zM1163 622h3v1h-3zM1169 622h3v1h-3zM415 623h1v1h-1zM564 623h2v1h-2zM413 624h2v1h-2zM703 624h1v1h-1zM407 625h3v1h-3zM569 625h3v1h-3zM702 625h1v1h-1zM5 626h3v1h-3zM401 626h3v1h-3zM701 626h1v1h-1zM11 627h3v1h-3zM377 627h3v1h-3zM383 627h3v1h-3zM389 627h3v1h-3zM395 627h3v1h-3zM575 627h1v1h-1zM17 628h3v1h-3zM361 628h1v1h-1zM365 628h3v1h-3zM371 628h3v1h-3zM576 628h1v1h-1zM23 629h3v1h-3zM353 629h3v1h-3zM359 629h2v1h-2zM577 629h1v1h-1zM697 629h1v1h-1zM29 630h3v1h-3zM337 630h1v1h-1zM341 630h3v1h-3zM347 630h3v1h-3zM696 630h1v1h-1zM35 631h3v1h-3zM329 631h3v1h-3zM335 631h2v1h-2zM581 631h1v1h-1zM695 631h1v1h-1zM41 632h3v1h-3zM47 632h2v1h-2zM323 632h3v1h-3zM582 632h2v1h-2zM49 633h1v1h-1zM53 633h3v1h-3zM317 633h3v1h-3zM59 634h3v1h-3zM311 634h3v1h-3zM65 635h3v1h-3zM71 635h3v1h-3zM77 635h3v1h-3zM83 635h3v1h-3zM89 635h3v1h-3zM95 635h2v1h-2zM305 635h3v1h-3zM587 635h2v1h-2zM691 635h1v1h-1zM97 636h1v1h-1zM101 636h3v1h-3zM107 636h3v1h-3zM289 636h1v1h-1zM293 636h3v1h-3zM299 636h3v1h-3zM589 636h1v1h-1zM689 636h2v1h-2zM113 637h3v1h-3zM119 637h2v1h-2zM281 637h3v1h-3zM287 637h2v1h-2zM121 638h1v1h-1zM125 638h3v1h-3zM265 638h1v1h-1zM269 638h3v1h-3zM275 638h3v1h-3zM131 639h3v1h-3zM241 639h1v1h-1zM245 639h3v1h-3zM251 639h3v1h-3zM257 639h3v1h-3zM263 639h2v1h-2zM593 639h1v1h-1zM137 640h3v1h-3zM143 640h2v1h-2zM227 640h3v1h-3zM233 640h3v1h-3zM239 640h2v1h-2zM594 640h1v1h-1zM685 640h1v1h-1zM145 641h1v1h-1zM149 641h2v1h-2zM217 641h1v1h-1zM221 641h3v1h-3zM595 641h1v1h-1zM684 641h1v1h-1zM151 642h1v1h-1zM209 642h3v1h-3zM215 642h2v1h-2zM683 642h1v1h-1zM155 643h3v1h-3zM161 643h3v1h-3zM167 643h2v1h-2zM193 643h1v1h-1zM197 643h3v1h-3zM203 643h3v1h-3zM169 644h1v1h-1zM173 644h3v1h-3zM179 644h3v1h-3zM185 644h3v1h-3zM191 644h2v1h-2zM599 644h2v1h-2zM601 645h1v1h-1zM679 645h1v1h-1zM678 646h1v1h-1zM677 647h1v1h-1zM605 648h1v1h-1zM606 649h2v1h-2zM673 650h1v1h-1zM671 651h2v1h-2zM611 652h2v1h-2zM613 653h1v1h-1zM666 654h2v1h-2zM617 655h1v1h-1zM665 655h1v1h-1zM618 656h2v1h-2zM660 657h2v1h-2zM623 658h2v1h-2zM659 658h1v1h-1zM625 659h1v1h-1zM655 659h1v1h-1zM629 660h2v1h-2zM653 660h2v1h-2zM631 661h1v1h-1zM649 661h1v1h-1zM635 662h3v1h-3zM647 662h2v1h-2zM641 663h3v1h-3z" fill="#ff0000"/>
</g>
<text x="8.63" y="604" font-size="9.6" fill="#000" stroke="#000" stroke-width="0.12" textLength="66.97" lengthAdjust="spacingAndGlyphs" text-rendering="geometricPrecision">MACD(12,26,9)</text>
<text x="77.38" y="604" font-size="9.6" fill="#000" stroke="#000" stroke-width="0.12" textLength="41.98" lengthAdjust="spacingAndGlyphs" text-rendering="geometricPrecision">-0.001872</text>
<text x="121.28" y="604" font-size="9.6" fill="#000" stroke="#000" stroke-width="0.12" textLength="41.83" lengthAdjust="spacingAndGlyphs" text-rendering="geometricPrecision">-0.000390</text>
<rect x="1490" y="593" width="1" height="1" fill="#000"/>
<rect x="1490" y="621" width="1" height="1" fill="#000"/>
<rect x="1490" y="676" width="1" height="1" fill="#000"/>
<text x="1493.45" y="602" font-size="9.6" fill="#000" stroke="#000" stroke-width="0.12" textLength="36.04" lengthAdjust="spacingAndGlyphs" text-rendering="geometricPrecision">0.005818</text>
<text x="1493.44" y="625" font-size="9.6" fill="#000" stroke="#000" stroke-width="0.12" textLength="17.28" lengthAdjust="spacingAndGlyphs" text-rendering="geometricPrecision">0.00</text>
<text x="1492.51" y="674" font-size="9.6" fill="#000" stroke="#000" stroke-width="0.12" textLength="38.27" lengthAdjust="spacingAndGlyphs" text-rendering="geometricPrecision">-0.011514</text>
<rect x="5" y="678" width="1" height="3" fill="#000"/>
<text x="4.01" y="690" font-size="9.6" fill="#000" stroke="#000" stroke-width="0.12" textLength="52.11" lengthAdjust="spacingAndGlyphs" text-rendering="geometricPrecision">13 Dec 2019</text>
<rect x="69" y="678" width="1" height="3" fill="#000"/>
<text x="68.04" y="690" font-size="9.6" fill="#000" stroke="#000" stroke-width="0.12" textLength="52.08" lengthAdjust="spacingAndGlyphs" text-rendering="geometricPrecision">23 Dec 2019</text>
<rect x="133" y="678" width="1" height="3" fill="#000"/>
<text x="132.12" y="690" font-size="9.6" fill="#000" stroke="#000" stroke-width="0.12" textLength="45.19" lengthAdjust="spacingAndGlyphs" text-rendering="geometricPrecision">1 Jan 2020</text>
<rect x="197" y="678" width="1" height="3" fill="#000"/>
<text x="195.92" y="690" font-size="9.6" fill="#000" stroke="#000" stroke-width="0.12" textLength="50.20" lengthAdjust="spacingAndGlyphs" text-rendering="geometricPrecision">10 Jan 2020</text>
<rect x="261" y="678" width="1" height="3" fill="#000"/>
<text x="259.54" y="690" font-size="9.6" fill="#000" stroke="#000" stroke-width="0.12" textLength="50.58" lengthAdjust="spacingAndGlyphs" text-rendering="geometricPrecision">20 Jan 2020</text>
<rect x="325" y="678" width="1" height="3" fill="#000"/>
<text x="323.74" y="690" font-size="9.6" fill="#000" stroke="#000" stroke-width="0.12" textLength="50.48" lengthAdjust="spacingAndGlyphs" text-rendering="geometricPrecision">29 Jan 2020</text>
<rect x="389" y="678" width="1" height="3" fill="#000"/>
<text x="387.93" y="690" font-size="9.6" fill="#000" stroke="#000" stroke-width="0.12" textLength="47.39" lengthAdjust="spacingAndGlyphs" text-rendering="geometricPrecision">7 Feb 2020</text>
<rect x="453" y="678" width="1" height="3" fill="#000"/>
<text x="451.50" y="690" font-size="9.6" fill="#000" stroke="#000" stroke-width="0.12" textLength="52.74" lengthAdjust="spacingAndGlyphs" text-rendering="geometricPrecision">17 Feb 2020</text>
<rect x="517" y="678" width="1" height="3" fill="#000"/>
<text x="516.34" y="690" font-size="9.6" fill="#000" stroke="#000" stroke-width="0.12" textLength="51.89" lengthAdjust="spacingAndGlyphs" text-rendering="geometricPrecision">26 Feb 2020</text>
<rect x="581" y="678" width="1" height="3" fill="#000"/>
<text x="579.53" y="690" font-size="9.6" fill="#000" stroke="#000" stroke-width="0.12" textLength="47.89" lengthAdjust="spacingAndGlyphs" text-rendering="geometricPrecision">6 Mar 2020</text>
<rect x="645" y="678" width="1" height="3" fill="#000"/>
<text x="643.30" y="690" font-size="9.6" fill="#000" stroke="#000" stroke-width="0.12" textLength="52.73" lengthAdjust="spacingAndGlyphs" text-rendering="geometricPrecision">16 Mar 2020</text>
<rect x="709" y="678" width="1" height="3" fill="#000"/>
<text x="707.84" y="690" font-size="9.6" fill="#000" stroke="#000" stroke-width="0.12" textLength="52.19" lengthAdjust="spacingAndGlyphs" text-rendering="geometricPrecision">25 Mar 2020</text>
<rect x="773" y="678" width="1" height="3" fill="#000"/>
<text x="772.02" y="690" font-size="9.6" fill="#000" stroke="#000" stroke-width="0.12" textLength="45.84" lengthAdjust="spacingAndGlyphs" text-rendering="geometricPrecision">3 Apr 2020</text>
<rect x="837" y="678" width="1" height="3" fill="#000"/>
<text x="835.79" y="690" font-size="9.6" fill="#000" stroke="#000" stroke-width="0.12" textLength="50.72" lengthAdjust="spacingAndGlyphs" text-rendering="geometricPrecision">13 Apr 2020</text>
<rect x="901" y="678" width="1" height="3" fill="#000"/>
<text x="900.13" y="690" font-size="9.6" fill="#000" stroke="#000" stroke-width="0.12" textLength="50.99" lengthAdjust="spacingAndGlyphs" text-rendering="geometricPrecision">22 Apr 2020</text>
<rect x="965" y="678" width="1" height="3" fill="#000"/>
<text x="963.87" y="690" font-size="9.6" fill="#000" stroke="#000" stroke-width="0.12" textLength="50.78" lengthAdjust="spacingAndGlyphs" text-rendering="geometricPrecision">1 May 2020</text>
<rect x="1029" y="678" width="1" height="3" fill="#000"/>
<text x="1027.87" y="690" font-size="9.6" fill="#000" stroke="#000" stroke-width="0.12" textLength="55.39" lengthAdjust="spacingAndGlyphs" text-rendering="geometricPrecision">11 May 2020</text>
<rect x="1093" y="678" width="1" height="3" fill="#000"/>
<text x="1092.02" y="690" font-size="9.6" fill="#000" stroke="#000" stroke-width="0.12" textLength="55.13" lengthAdjust="spacingAndGlyphs" text-rendering="geometricPrecision">20 May 2020</text>
<rect x="1157" y="678" width="1" height="3" fill="#000"/>
<text x="1156.73" y="690" font-size="9.6" fill="#000" stroke="#000" stroke-width="0.12" textLength="54.93" lengthAdjust="spacingAndGlyphs" text-rendering="geometricPrecision">29 May 2020</text>
<rect x="0" y="698" width="1530" height="1" fill="#e3e3e3"/>
<rect x="0" y="699" width="1530" height="24" fill="#f0f0f0"/>
<rect x="2" y="699" width="1528" height="1" fill="#ffffff"/>
<rect x="0" y="700" width="1530" height="1" fill="#000"/>
<rect x="2" y="701" width="1528" height="1" fill="#ffffff"/>
<rect x="0" y="720" width="1530" height="1" fill="#ffffff"/>
<rect x="0" y="721" width="1530" height="2" fill="#efefef"/>
<rect x="0" y="701" width="2" height="19" fill="#a0a0a0"/>
<rect x="110" y="699" width="100" height="19" fill="#ffffff"/>
<rect x="110" y="700" width="1" height="19" fill="#000"/>
<rect x="209" y="700" width="1" height="19" fill="#000"/>
<rect x="110" y="718" width="100" height="1" fill="#000"/>
<rect x="210" y="701" width="1" height="18" fill="#ffffff"/>
<text x="17.54" y="715" font-size="12.4" fill="#5a5a5a" stroke="#5a5a5a" stroke-width="0.12" textLength="80.34" lengthAdjust="spacingAndGlyphs" text-rendering="geometricPrecision">EURUSD,Daily</text>
<text x="119.69" y="715" font-size="12.4" fill="#000" stroke="#000" stroke-width="0.12" textLength="79.32" lengthAdjust="spacingAndGlyphs" text-rendering="geometricPrecision">USDCHF,Daily</text>
<text x="221.50" y="715" font-size="12.4" fill="#5a5a5a" stroke="#5a5a5a" stroke-width="0.12" textLength="80.98" lengthAdjust="spacingAndGlyphs" text-rendering="geometricPrecision">AUDUSD,Daily</text>
<text x="324.69" y="715" font-size="12.4" fill="#5a5a5a" stroke="#5a5a5a" stroke-width="0.12" textLength="81.49" lengthAdjust="spacingAndGlyphs" text-rendering="geometricPrecision">USDCAD,Daily</text>
<text x="427.38" y="715" font-size="12.4" fill="#5a5a5a" stroke="#5a5a5a" stroke-width="0.12" textLength="83.51" lengthAdjust="spacingAndGlyphs" text-rendering="geometricPrecision">USDCNH,Daily</text>
<text x="533.04" y="715" font-size="12.4" fill="#5a5a5a" stroke="#5a5a5a" stroke-width="0.12" textLength="80.84" lengthAdjust="spacingAndGlyphs" text-rendering="geometricPrecision">EURUSD,Daily</text>
<text x="638.11" y="715" font-size="12.4" fill="#5a5a5a" stroke="#5a5a5a" stroke-width="0.12" textLength="79.38" lengthAdjust="spacingAndGlyphs" text-rendering="geometricPrecision">GBPUSD,Daily</text>
<text x="741.00" y="715" font-size="12.4" fill="#5a5a5a" stroke="#5a5a5a" stroke-width="0.12" textLength="69.35" lengthAdjust="spacingAndGlyphs" text-rendering="geometricPrecision">XAUUSD,H4</text>
<text x="832.10" y="715" font-size="12.4" fill="#5a5a5a" stroke="#5a5a5a" stroke-width="0.12" textLength="50.90" lengthAdjust="spacingAndGlyphs" text-rendering="geometricPrecision">HK50,H1</text>
<text x="904.26" y="715" font-size="12.4" fill="#5a5a5a" stroke="#5a5a5a" stroke-width="0.12" textLength="57.89" lengthAdjust="spacingAndGlyphs" text-rendering="geometricPrecision">UK100,H1</text>
<text x="984.46" y="715" font-size="12.4" fill="#5a5a5a" stroke="#5a5a5a" stroke-width="0.12" textLength="57.69" lengthAdjust="spacingAndGlyphs" text-rendering="geometricPrecision">UK100,H1</text>
<text x="1064.40" y="715" font-size="12.4" fill="#5a5a5a" stroke="#5a5a5a" stroke-width="0.12" textLength="57.64" lengthAdjust="spacingAndGlyphs" text-rendering="geometricPrecision">GER30,H1</text>
<text x="1143.34" y="715" font-size="12.4" fill="#5a5a5a" stroke="#5a5a5a" stroke-width="0.12" textLength="55.84" lengthAdjust="spacingAndGlyphs" text-rendering="geometricPrecision">FRA40,H1</text>
<text x="1219.07" y="715" font-size="12.4" fill="#5a5a5a" stroke="#5a5a5a" stroke-width="0.12" textLength="63.56" lengthAdjust="spacingAndGlyphs" text-rendering="geometricPrecision">USOil,Daily</text>
<text x="1303.10" y="715" font-size="12.4" fill="#5a5a5a" stroke="#5a5a5a" stroke-width="0.12" textLength="64.37" lengthAdjust="spacingAndGlyphs" text-rendering="geometricPrecision">USDJPY,H1</text>
<text x="1387.00" y="715" font-size="12.4" fill="#5a5a5a" stroke="#5a5a5a" stroke-width="0.12" textLength="48.47" lengthAdjust="spacingAndGlyphs" text-rendering="geometricPrecision">DJ30,H1</text>
<rect x="314" y="703" width="1" height="12" fill="#808080"/>
<rect x="418" y="703" width="1" height="12" fill="#808080"/>
<rect x="522" y="703" width="1" height="12" fill="#808080"/>
<rect x="626" y="703" width="1" height="12" fill="#808080"/>
<rect x="730" y="703" width="1" height="12" fill="#808080"/>
<rect x="822" y="703" width="1" height="12" fill="#808080"/>
<rect x="894" y="703" width="1" height="12" fill="#808080"/>
<rect x="974" y="703" width="1" height="12" fill="#808080"/>
<rect x="1054" y="703" width="1" height="12" fill="#808080"/>
<rect x="1134" y="703" width="1" height="12" fill="#808080"/>
<rect x="1210" y="703" width="1" height="12" fill="#808080"/>
<rect x="1294" y="703" width="1" height="12" fill="#808080"/>
<rect x="1378" y="703" width="1" height="12" fill="#808080"/>
<rect x="1446" y="703" width="1" height="12" fill="#808080"/>
<polygon points="1504.5,709 1508,705.5 1508,712.5" fill="#8c8c8c"/>
<polygon points="1527.5,709 1524,705.5 1524,712.5" fill="#8c8c8c"/></svg></body></html>
